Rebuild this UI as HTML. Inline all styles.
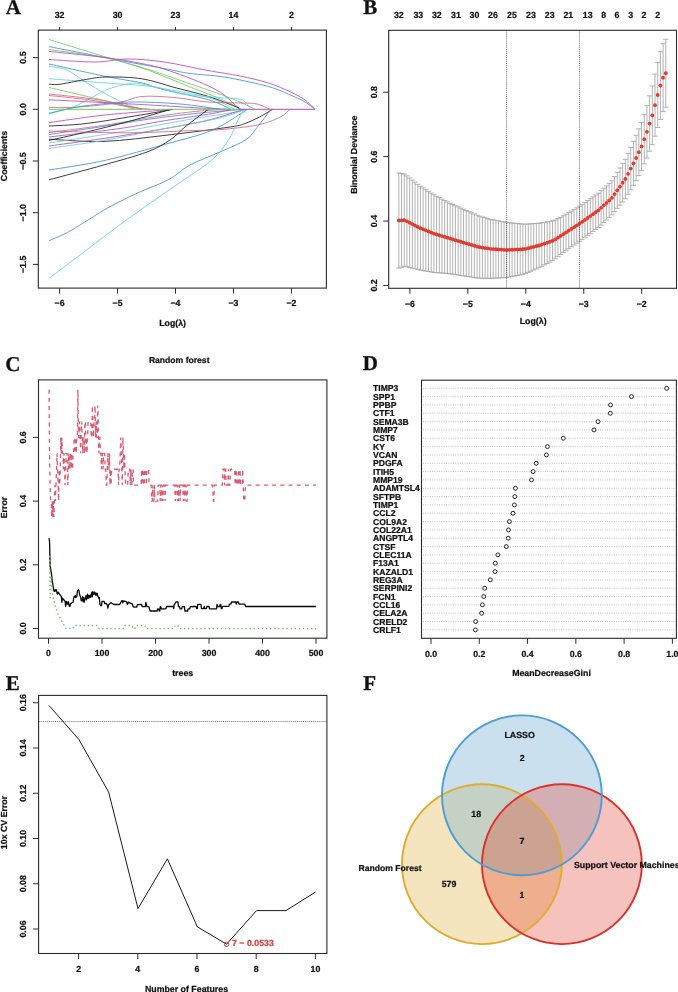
<!DOCTYPE html>
<html><head><meta charset="utf-8"><style>html,body{margin:0;padding:0;background:#fff;}svg{display:block;will-change:transform;}</style></head>
<body>
<svg width="678" height="992" viewBox="0 0 678 992" text-rendering="geometricPrecision">
<rect width="678" height="992" fill="#fff"/>
<text x="5.80" y="13.60" text-anchor="start" font-family='"Liberation Serif", serif' font-size="21" font-weight="bold" fill="#111" stroke="#111" stroke-width="0.3">A</text>
<text x="363.20" y="13.60" text-anchor="start" font-family='"Liberation Serif", serif' font-size="21" font-weight="bold" fill="#111" stroke="#111" stroke-width="0.3">B</text>
<text x="5.20" y="370.60" text-anchor="start" font-family='"Liberation Serif", serif' font-size="21" font-weight="bold" fill="#111" stroke="#111" stroke-width="0.3">C</text>
<text x="362.80" y="369.80" text-anchor="start" font-family='"Liberation Serif", serif' font-size="21" font-weight="bold" fill="#111" stroke="#111" stroke-width="0.3">D</text>
<text x="5.80" y="689.60" text-anchor="start" font-family='"Liberation Serif", serif' font-size="21" font-weight="bold" fill="#111" stroke="#111" stroke-width="0.3">E</text>
<text x="363.20" y="689.80" text-anchor="start" font-family='"Liberation Serif", serif' font-size="21" font-weight="bold" fill="#111" stroke="#111" stroke-width="0.3">F</text>
<g fill="none" stroke-width="0.85" stroke-linejoin="round">
<path d="M49.00,59.50 C56.67,59.92 81.83,62.08 95.00,62.00 C108.17,61.92 116.50,59.00 128.00,59.00 C139.50,59.00 150.67,60.08 164.00,62.00 C177.33,63.92 195.33,68.17 208.00,70.50 C220.67,72.83 229.92,73.92 240.00,76.00 C250.08,78.08 260.07,80.33 268.50,83.00 C276.93,85.67 284.52,89.17 290.60,92.00 C296.68,94.83 300.93,97.12 305.00,100.00 C309.07,102.88 313.33,107.75 315.00,109.30" stroke="#bf45c2"/>
<path d="M49.00,46.60 C58.50,48.45 94.17,55.38 106.00,57.70 C117.83,60.02 110.33,58.70 120.00,60.50 C129.67,62.30 152.33,66.33 164.00,68.50 C175.67,70.67 180.00,72.08 190.00,73.50 C200.00,74.92 210.92,74.83 224.00,77.00 C237.08,79.17 257.33,83.45 268.50,86.50 C279.67,89.55 284.92,92.72 291.00,95.30 C297.08,97.88 301.00,99.67 305.00,102.00 C309.00,104.33 313.33,108.08 315.00,109.30" stroke="#3a94d6"/>
<path d="M49.00,39.50 C58.17,42.33 92.17,52.92 104.00,56.50 C115.83,60.08 111.83,58.42 120.00,61.00 C128.17,63.58 142.00,67.93 153.00,72.00 C164.00,76.07 174.83,80.95 186.00,85.40 C197.17,89.85 210.72,94.72 220.00,98.70 C229.28,102.68 238.08,107.53 241.70,109.30" stroke="#70c95e"/>
<path d="M49.00,49.50 C58.50,50.92 89.17,54.58 106.00,58.00 C122.83,61.42 137.33,66.17 150.00,70.00 C162.67,73.83 170.33,76.97 182.00,81.00 C193.67,85.03 210.00,90.53 220.00,94.20 C230.00,97.87 236.17,100.48 242.00,103.00 C247.83,105.52 252.83,108.25 255.00,109.30" stroke="#70c95e"/>
<path d="M49.00,51.40 C58.50,52.43 90.83,55.63 106.00,57.60 C121.17,59.57 130.33,61.30 140.00,63.20 C149.67,65.10 154.50,66.03 164.00,69.00 C173.50,71.97 187.67,77.17 197.00,81.00 C206.33,84.83 214.00,88.33 220.00,92.00 C226.00,95.67 229.67,100.12 233.00,103.00 C236.33,105.88 238.83,108.25 240.00,109.30" stroke="#bf45c2"/>
<path d="M49.00,64.00 C58.50,66.08 90.50,73.33 106.00,76.50 C121.50,79.67 132.33,80.78 142.00,83.00 C151.67,85.22 152.92,87.00 164.00,89.80 C175.08,92.60 197.33,96.55 208.50,99.80 C219.67,103.05 227.25,107.72 231.00,109.30" stroke="#3a94d6"/>
<path d="M49.00,66.50 C51.92,67.05 60.67,67.38 66.50,69.80 C72.33,72.22 77.42,76.97 84.00,81.00 C90.58,85.03 98.58,90.00 106.00,94.00 C113.42,98.00 122.50,102.45 128.50,105.00 C134.50,107.55 139.75,108.58 142.00,109.30" stroke="#62d3da"/>
<path d="M49.00,78.70 C58.50,79.42 90.83,81.90 106.00,83.00 C121.17,84.10 130.33,84.35 140.00,85.30 C149.67,86.25 152.58,86.65 164.00,88.70 C175.42,90.75 196.67,94.17 208.50,97.60 C220.33,101.03 230.58,107.35 235.00,109.30" stroke="#62d3da"/>
<path d="M49.00,84.20 C50.83,84.20 54.17,84.93 60.00,84.20 C65.83,83.47 76.33,81.00 84.00,79.80 C91.67,78.60 96.33,77.17 106.00,77.00 C115.67,76.83 130.50,77.03 142.00,78.80 C153.50,80.57 163.92,84.65 175.00,87.60 C186.08,90.55 198.50,93.37 208.50,96.50 C218.50,99.63 229.75,104.27 235.00,106.40 C240.25,108.53 239.17,108.82 240.00,109.30" stroke="#1c1c1c"/>
<path d="M49.00,87.50 C58.50,89.75 91.67,97.37 106.00,101.00 C120.33,104.63 130.17,107.92 135.00,109.30" stroke="#70c95e"/>
<path d="M49.00,114.00 C52.50,113.00 64.17,110.00 70.00,108.00 C75.83,106.00 78.00,105.00 84.00,102.00 C90.00,99.00 98.67,93.00 106.00,90.00 C113.33,87.00 122.00,85.00 128.00,84.00 C134.00,83.00 132.33,82.30 142.00,84.00 C151.67,85.70 173.00,91.93 186.00,94.20 C199.00,96.47 210.67,96.67 220.00,97.60 C229.33,98.53 236.92,97.85 242.00,99.80 C247.08,101.75 249.08,107.72 250.50,109.30" stroke="#62d3da"/>
<path d="M49.00,94.00 C57.50,95.00 84.50,97.45 100.00,100.00 C115.50,102.55 135.00,107.75 142.00,109.30" stroke="#d9647c"/>
<path d="M49.00,95.50 C55.83,96.25 76.50,98.08 90.00,100.00 C103.50,101.92 120.00,105.45 130.00,107.00 C140.00,108.55 146.67,108.92 150.00,109.30" stroke="#d9647c"/>
<path d="M49.00,99.80 C58.50,100.28 89.17,101.83 106.00,102.70 C122.83,103.57 134.33,104.12 150.00,105.00 C165.67,105.88 186.67,107.28 200.00,108.00 C213.33,108.72 225.00,109.08 230.00,109.30" stroke="#bf45c2"/>
<path d="M49.00,107.30 C53.33,107.30 63.67,108.02 75.00,107.30 C86.33,106.58 105.83,104.80 117.00,103.00 C128.17,101.20 132.33,97.40 142.00,96.50 C151.67,95.60 164.00,96.68 175.00,97.60 C186.00,98.52 196.83,101.10 208.00,102.00 C219.17,102.90 233.83,102.67 242.00,103.00 C250.17,103.33 252.33,102.95 257.00,104.00 C261.67,105.05 267.83,108.42 270.00,109.30" stroke="#d9647c"/>
<path d="M49.00,113.20 C54.83,112.00 70.50,107.87 84.00,106.00 C97.50,104.13 114.00,102.33 130.00,102.00 C146.00,101.67 165.00,102.78 180.00,104.00 C195.00,105.22 213.33,108.42 220.00,109.30" stroke="#3a94d6"/>
<path d="M49.00,122.60 C58.50,121.32 85.33,117.10 106.00,114.90 C126.67,112.70 161.83,110.32 173.00,109.40" stroke="#bf45c2"/>
<path d="M49.00,126.00 C54.83,125.63 70.75,125.30 84.00,123.80 C97.25,122.30 113.67,119.40 128.50,117.00 C143.33,114.60 165.58,110.67 173.00,109.40" stroke="#1c1c1c"/>
<path d="M49.00,132.60 C58.50,131.33 87.50,127.77 106.00,125.00 C124.50,122.23 144.33,118.33 160.00,116.00 C175.67,113.67 188.33,112.12 200.00,111.00 C211.67,109.88 225.00,109.58 230.00,109.30" stroke="#d9647c"/>
<path d="M49.00,134.50 C58.50,133.08 89.17,128.58 106.00,126.00 C122.83,123.42 134.33,121.17 150.00,119.00 C165.67,116.83 184.17,114.62 200.00,113.00 C215.83,111.38 237.50,109.92 245.00,109.30" stroke="#3a94d6"/>
<path d="M49.00,137.00 C60.83,135.58 100.83,131.20 120.00,128.50 C139.17,125.80 149.25,123.18 164.00,120.80 C178.75,118.42 197.33,116.08 208.50,114.20 C219.67,112.32 227.25,110.28 231.00,109.50" stroke="#bf45c2"/>
<path d="M49.00,139.20 C58.17,139.57 84.17,142.10 104.00,141.40 C123.83,140.70 147.00,137.40 168.00,135.00 C189.00,132.60 217.17,128.92 230.00,127.00 C242.83,125.08 240.08,125.17 245.00,123.50 C249.92,121.83 254.87,119.37 259.50,117.00 C264.13,114.63 270.58,110.58 272.80,109.30" stroke="#1c1c1c"/>
<path d="M49.00,140.40 C54.83,139.10 70.75,135.75 84.00,132.60 C97.25,129.45 114.08,125.37 128.50,121.50 C142.92,117.63 163.50,111.42 170.50,109.40" stroke="#1c1c1c"/>
<path d="M49.00,143.00 C60.83,141.17 97.17,135.83 120.00,132.00 C142.83,128.17 167.67,123.17 186.00,120.00 C204.33,116.83 219.33,114.78 230.00,113.00 C240.67,111.22 246.67,109.92 250.00,109.30" stroke="#62d3da"/>
<path d="M49.00,146.00 C60.83,144.33 94.83,140.00 120.00,136.00 C145.17,132.00 179.33,126.45 200.00,122.00 C220.67,117.55 236.67,111.42 244.00,109.30" stroke="#bf45c2"/>
<path d="M49.00,148.50 C58.50,147.08 86.17,143.42 106.00,140.00 C125.83,136.58 149.00,131.67 168.00,128.00 C187.00,124.33 207.17,121.12 220.00,118.00 C232.83,114.88 240.83,110.75 245.00,109.30" stroke="#62d3da"/>
<path d="M49.00,131.00 C61.75,131.30 102.05,132.85 125.50,132.80 C148.95,132.75 173.95,131.23 189.70,130.70 C205.45,130.17 208.72,130.55 220.00,129.60 C231.28,128.65 247.47,127.03 257.40,125.00 C267.33,122.97 274.17,120.02 279.60,117.40 C285.03,114.78 288.27,110.65 290.00,109.30" stroke="#d9647c"/>
<path d="M49.00,170.00 C58.17,168.43 84.17,165.02 104.00,160.60 C123.83,156.18 150.17,148.48 168.00,143.50 C185.83,138.52 198.83,135.68 211.00,130.70 C223.17,125.72 235.00,117.17 241.00,113.60 C247.00,110.03 246.00,110.02 247.00,109.30" stroke="#3a94d6"/>
<path d="M49.00,179.80 C58.17,177.32 87.67,169.53 104.00,164.90 C120.33,160.27 136.00,156.15 147.00,152.00 C158.00,147.85 163.67,144.17 170.00,140.00 C176.33,135.83 179.58,131.40 185.00,127.00 C190.42,122.60 198.58,116.55 202.50,113.60 C206.42,110.65 207.50,110.02 208.50,109.30" stroke="#1c1c1c"/>
<path d="M49.00,240.70 C52.50,239.08 60.17,236.48 70.00,231.00 C79.83,225.52 96.67,214.17 108.00,207.80 C119.33,201.43 128.00,197.43 138.00,192.80 C148.00,188.17 159.33,184.63 168.00,180.00 C176.67,175.37 181.33,169.67 190.00,165.00 C198.67,160.33 210.67,156.23 220.00,152.00 C229.33,147.77 239.83,143.70 246.00,139.60 C252.17,135.50 252.83,132.45 257.00,127.40 C261.17,122.35 268.67,112.32 271.00,109.30" stroke="#3a94d6"/>
<path d="M49.00,278.40 C54.67,274.12 70.25,262.33 83.00,252.70 C95.75,243.07 111.33,230.93 125.50,220.60 C139.67,210.27 153.75,200.70 168.00,190.70 C182.25,180.70 200.88,169.12 211.00,160.60 C221.12,152.08 224.37,146.03 228.70,139.60 C233.03,133.17 234.45,127.05 237.00,122.00 C239.55,116.95 242.83,111.42 244.00,109.30" stroke="#62d3da"/>
<path d="M49,109.3H240" stroke="#70c95e" stroke-width="1.0"/>
<path d="M240,109.3H315" stroke="#bf45c2" stroke-width="1.0"/>
</g>
<rect x="38.30" y="30.10" width="288.10" height="258.00" fill="none" stroke="#2b2b2b" stroke-width="1.1"/>
<line x1="59.60" y1="288.10" x2="59.60" y2="293.60" stroke="#2b2b2b" stroke-width="1.0" />
<text x="59.60" y="306.30" text-anchor="middle" font-family='"Liberation Sans", sans-serif' font-size="8.8" font-weight="bold" fill="#111"  stroke="#111" stroke-width="0.22">−6</text>
<line x1="117.55" y1="288.10" x2="117.55" y2="293.60" stroke="#2b2b2b" stroke-width="1.0" />
<text x="117.55" y="306.30" text-anchor="middle" font-family='"Liberation Sans", sans-serif' font-size="8.8" font-weight="bold" fill="#111"  stroke="#111" stroke-width="0.22">−5</text>
<line x1="175.50" y1="288.10" x2="175.50" y2="293.60" stroke="#2b2b2b" stroke-width="1.0" />
<text x="175.50" y="306.30" text-anchor="middle" font-family='"Liberation Sans", sans-serif' font-size="8.8" font-weight="bold" fill="#111"  stroke="#111" stroke-width="0.22">−4</text>
<line x1="233.45" y1="288.10" x2="233.45" y2="293.60" stroke="#2b2b2b" stroke-width="1.0" />
<text x="233.45" y="306.30" text-anchor="middle" font-family='"Liberation Sans", sans-serif' font-size="8.8" font-weight="bold" fill="#111"  stroke="#111" stroke-width="0.22">−3</text>
<line x1="291.40" y1="288.10" x2="291.40" y2="293.60" stroke="#2b2b2b" stroke-width="1.0" />
<text x="291.40" y="306.30" text-anchor="middle" font-family='"Liberation Sans", sans-serif' font-size="8.8" font-weight="bold" fill="#111"  stroke="#111" stroke-width="0.22">−2</text>
<line x1="32.80" y1="57.60" x2="38.30" y2="57.60" stroke="#2b2b2b" stroke-width="1.0" />
<text transform="translate(26.10,57.60) rotate(-90)" text-anchor="middle" font-family='"Liberation Sans", sans-serif' font-size="8.8" font-weight="bold" fill="#111"  stroke="#111" stroke-width="0.22">0.5</text>
<line x1="32.80" y1="109.30" x2="38.30" y2="109.30" stroke="#2b2b2b" stroke-width="1.0" />
<text transform="translate(26.10,109.30) rotate(-90)" text-anchor="middle" font-family='"Liberation Sans", sans-serif' font-size="8.8" font-weight="bold" fill="#111"  stroke="#111" stroke-width="0.22">0.0</text>
<line x1="32.80" y1="161.00" x2="38.30" y2="161.00" stroke="#2b2b2b" stroke-width="1.0" />
<text transform="translate(26.10,161.00) rotate(-90)" text-anchor="middle" font-family='"Liberation Sans", sans-serif' font-size="8.8" font-weight="bold" fill="#111"  stroke="#111" stroke-width="0.22">−0.5</text>
<line x1="32.80" y1="212.70" x2="38.30" y2="212.70" stroke="#2b2b2b" stroke-width="1.0" />
<text transform="translate(26.10,212.70) rotate(-90)" text-anchor="middle" font-family='"Liberation Sans", sans-serif' font-size="8.8" font-weight="bold" fill="#111"  stroke="#111" stroke-width="0.22">−1.0</text>
<line x1="32.80" y1="264.40" x2="38.30" y2="264.40" stroke="#2b2b2b" stroke-width="1.0" />
<text transform="translate(26.10,264.40) rotate(-90)" text-anchor="middle" font-family='"Liberation Sans", sans-serif' font-size="8.8" font-weight="bold" fill="#111"  stroke="#111" stroke-width="0.22">−1.5</text>
<line x1="59.60" y1="30.10" x2="59.60" y2="27.10" stroke="#2b2b2b" stroke-width="1.0" />
<text x="59.60" y="18.30" text-anchor="middle" font-family='"Liberation Sans", sans-serif' font-size="8.8" font-weight="bold" fill="#111"  stroke="#111" stroke-width="0.22">32</text>
<line x1="117.55" y1="30.10" x2="117.55" y2="27.10" stroke="#2b2b2b" stroke-width="1.0" />
<text x="117.55" y="18.30" text-anchor="middle" font-family='"Liberation Sans", sans-serif' font-size="8.8" font-weight="bold" fill="#111"  stroke="#111" stroke-width="0.22">30</text>
<line x1="175.50" y1="30.10" x2="175.50" y2="27.10" stroke="#2b2b2b" stroke-width="1.0" />
<text x="175.50" y="18.30" text-anchor="middle" font-family='"Liberation Sans", sans-serif' font-size="8.8" font-weight="bold" fill="#111"  stroke="#111" stroke-width="0.22">23</text>
<line x1="233.45" y1="30.10" x2="233.45" y2="27.10" stroke="#2b2b2b" stroke-width="1.0" />
<text x="233.45" y="18.30" text-anchor="middle" font-family='"Liberation Sans", sans-serif' font-size="8.8" font-weight="bold" fill="#111"  stroke="#111" stroke-width="0.22">14</text>
<line x1="291.40" y1="30.10" x2="291.40" y2="27.10" stroke="#2b2b2b" stroke-width="1.0" />
<text x="291.40" y="18.30" text-anchor="middle" font-family='"Liberation Sans", sans-serif' font-size="8.8" font-weight="bold" fill="#111"  stroke="#111" stroke-width="0.22">2</text>
<text x="172.60" y="326.00" text-anchor="middle" font-family='"Liberation Sans", sans-serif' font-size="8.8" font-weight="bold" fill="#111"  stroke="#111" stroke-width="0.22">Log(λ)</text>
<text transform="translate(6.80,156.00) rotate(-90)" text-anchor="middle" font-family='"Liberation Sans", sans-serif' font-size="8.8" font-weight="bold" fill="#111"  stroke="#111" stroke-width="0.22">Coefficients</text>
<g stroke="#a9a9a9" stroke-width="0.9" fill="none">
<path d="M398.85,172.90V268.10M396.25,172.90H401.45M396.25,268.10H401.45"/>
<path d="M401.55,173.48V267.25M398.95,173.48H404.15M398.95,267.25H404.15"/>
<path d="M404.24,174.05V266.40M401.64,174.05H406.84M401.64,266.40H406.84"/>
<path d="M406.94,175.89V266.81M404.34,175.89H409.54M404.34,266.81H409.54"/>
<path d="M409.64,177.99V267.48M407.04,177.99H412.24M407.04,267.48H412.24"/>
<path d="M412.33,180.09V268.15M409.73,180.09H414.93M409.73,268.15H414.93"/>
<path d="M415.03,182.19V268.82M412.43,182.19H417.63M412.43,268.82H417.63"/>
<path d="M417.73,184.29V269.49M415.13,184.29H420.33M415.13,269.49H420.33"/>
<path d="M420.42,186.27V270.07M417.82,186.27H423.02M417.82,270.07H423.02"/>
<path d="M423.12,187.96V270.54M420.52,187.96H425.72M420.52,270.54H425.72"/>
<path d="M425.81,189.66V271.01M423.21,189.66H428.41M423.21,271.01H428.41"/>
<path d="M428.51,191.35V271.48M425.91,191.35H431.11M425.91,271.48H431.11"/>
<path d="M431.21,193.05V271.95M428.61,193.05H433.81M428.61,271.95H433.81"/>
<path d="M433.90,194.75V272.42M431.30,194.75H436.50M431.30,272.42H436.50"/>
<path d="M436.60,196.21V272.65M434.00,196.21H439.20M434.00,272.65H439.20"/>
<path d="M439.30,197.64V272.86M436.70,197.64H441.90M436.70,272.86H441.90"/>
<path d="M441.99,199.08V273.06M439.39,199.08H444.59M439.39,273.06H444.59"/>
<path d="M444.69,200.51V273.27M442.09,200.51H447.29M442.09,273.27H447.29"/>
<path d="M447.39,201.94V273.48M444.79,201.94H449.99M444.79,273.48H449.99"/>
<path d="M450.08,203.28V273.77M447.48,203.28H452.68M447.48,273.77H452.68"/>
<path d="M452.78,204.48V274.19M450.18,204.48H455.38M450.18,274.19H455.38"/>
<path d="M455.48,205.67V274.61M452.88,205.67H458.08M452.88,274.61H458.08"/>
<path d="M458.17,206.87V275.03M455.57,206.87H460.77M455.57,275.03H460.77"/>
<path d="M460.87,208.06V275.44M458.27,208.06H463.47M458.27,275.44H463.47"/>
<path d="M463.57,209.26V275.86M460.97,209.26H466.17M460.97,275.86H466.17"/>
<path d="M466.26,210.45V276.28M463.66,210.45H468.86M463.66,276.28H468.86"/>
<path d="M468.96,211.64V276.69M466.36,211.64H471.56M466.36,276.69H471.56"/>
<path d="M471.65,212.82V277.10M469.05,212.82H474.25M469.05,277.10H474.25"/>
<path d="M474.35,214.01V277.52M471.75,214.01H476.95M471.75,277.52H476.95"/>
<path d="M477.05,215.20V277.93M474.45,215.20H479.65M474.45,277.93H479.65"/>
<path d="M479.74,216.22V278.17M477.14,216.22H482.34M477.14,278.17H482.34"/>
<path d="M482.44,217.03V278.20M479.84,217.03H485.04M479.84,278.20H485.04"/>
<path d="M485.14,217.84V278.24M482.54,217.84H487.74M482.54,278.24H487.74"/>
<path d="M487.83,218.65V278.27M485.23,218.65H490.43M485.23,278.27H490.43"/>
<path d="M490.53,219.40V278.28M487.93,219.40H493.13M487.93,278.28H493.13"/>
<path d="M493.23,219.91V278.16M490.63,219.91H495.83M490.63,278.16H495.83"/>
<path d="M495.92,220.41V278.05M493.32,220.41H498.52M493.32,278.05H498.52"/>
<path d="M498.62,220.92V277.93M496.02,220.92H501.22M496.02,277.93H501.22"/>
<path d="M501.32,221.43V277.82M498.72,221.43H503.92M498.72,277.82H503.92"/>
<path d="M504.01,221.93V277.71M501.41,221.93H506.61M501.41,277.71H506.61"/>
<path d="M506.71,222.42V277.56M504.11,222.42H509.31M504.11,277.56H509.31"/>
<path d="M509.41,222.70V277.04M506.81,222.70H512.01M506.81,277.04H512.01"/>
<path d="M512.10,222.98V276.51M509.50,222.98H514.70M509.50,276.51H514.70"/>
<path d="M514.80,223.26V275.99M512.20,223.26H517.40M512.20,275.99H517.40"/>
<path d="M517.49,223.54V275.47M514.89,223.54H520.09M514.89,275.47H520.09"/>
<path d="M520.19,223.82V274.95M517.59,223.82H522.79M517.59,274.95H522.79"/>
<path d="M522.89,224.09V274.42M520.29,224.09H525.49M520.29,274.42H525.49"/>
<path d="M525.58,224.14V273.57M522.98,224.14H528.18M522.98,273.57H528.18"/>
<path d="M528.28,223.96V272.40M525.68,223.96H530.88M525.68,272.40H530.88"/>
<path d="M530.98,223.77V271.24M528.38,223.77H533.58M528.38,271.24H533.58"/>
<path d="M533.67,223.59V270.07M531.07,223.59H536.27M531.07,270.07H536.27"/>
<path d="M536.37,223.41V268.91M533.77,223.41H538.97M533.77,268.91H538.97"/>
<path d="M539.07,223.22V267.74M536.47,223.22H541.67M536.47,267.74H541.67"/>
<path d="M541.76,222.77V266.31M539.16,222.77H544.36M539.16,266.31H544.36"/>
<path d="M544.46,222.33V264.89M541.86,222.33H547.06M541.86,264.89H547.06"/>
<path d="M547.16,221.86V263.48M544.56,221.86H549.76M544.56,263.48H549.76"/>
<path d="M549.85,221.38V262.09M547.25,221.38H552.45M547.25,262.09H552.45"/>
<path d="M552.55,220.89V260.71M549.95,220.89H555.15M549.95,260.71H555.15"/>
<path d="M555.24,219.94V258.86M552.64,219.94H557.84M552.64,258.86H557.84"/>
<path d="M557.94,218.64V256.66M555.34,218.64H560.54M555.34,256.66H560.54"/>
<path d="M560.64,217.34V254.46M558.04,217.34H563.24M558.04,254.46H563.24"/>
<path d="M563.33,215.77V252.53M560.73,215.77H565.93M560.73,252.53H565.93"/>
<path d="M566.03,214.17V250.64M563.43,214.17H568.63M563.43,250.64H568.63"/>
<path d="M568.73,212.56V248.75M566.13,212.56H571.33M566.13,248.75H571.33"/>
<path d="M571.42,210.97V246.87M568.82,210.97H574.02M568.82,246.87H574.02"/>
<path d="M574.12,209.38V245.00M571.52,209.38H576.72M571.52,245.00H576.72"/>
<path d="M576.82,207.79V243.13M574.22,207.79H579.42M574.22,243.13H579.42"/>
<path d="M579.51,206.19V241.25M576.91,206.19H582.11M576.91,241.25H582.11"/>
<path d="M582.21,204.34V239.27M579.61,204.34H584.81M579.61,239.27H584.81"/>
<path d="M584.91,202.47V237.32M582.31,202.47H587.51M582.31,237.32H587.51"/>
<path d="M587.60,200.60V235.37M585.00,200.60H590.20M585.00,235.37H590.20"/>
<path d="M590.30,198.73V233.41M587.70,198.73H592.90M587.70,233.41H592.90"/>
<path d="M593.00,196.86V231.46M590.40,196.86H595.60M590.40,231.46H595.60"/>
<path d="M595.69,194.99V229.50M593.09,194.99H598.29M593.09,229.50H598.29"/>
<path d="M598.39,193.11V227.53M595.79,193.11H600.99M595.79,227.53H600.99"/>
<path d="M601.08,190.67V225.02M598.48,190.67H603.68M598.48,225.02H603.68"/>
<path d="M603.78,188.24V222.50M601.18,188.24H606.38M601.18,222.50H606.38"/>
<path d="M606.48,185.81V219.98M603.88,185.81H609.08M603.88,219.98H609.08"/>
<path d="M609.17,183.38V217.47M606.57,183.38H611.77M606.57,217.47H611.77"/>
<path d="M611.87,180.82V214.82M609.27,180.82H614.47M609.27,214.82H614.47"/>
<path d="M614.57,176.55V211.57M611.97,176.55H617.17M611.97,211.57H617.17"/>
<path d="M617.26,172.24V208.35M614.66,172.24H619.86M614.66,208.35H619.86"/>
<path d="M619.96,167.94V205.12M617.36,167.94H622.56M617.36,205.12H622.56"/>
<path d="M622.66,163.64V201.90M620.06,163.64H625.26M620.06,201.90H625.26"/>
<path d="M625.35,159.33V198.68M622.75,159.33H627.95M622.75,198.68H627.95"/>
<path d="M628.05,153.39V194.25M625.45,153.39H630.65M625.45,194.25H630.65"/>
<path d="M630.75,147.36V189.76M628.15,147.36H633.35M628.15,189.76H633.35"/>
<path d="M633.44,141.32V185.26M630.84,141.32H636.04M630.84,185.26H636.04"/>
<path d="M636.14,135.27V180.74M633.54,135.27H638.74M633.54,180.74H638.74"/>
<path d="M638.84,128.85V175.60M636.24,128.85H641.44M636.24,175.60H641.44"/>
<path d="M641.53,122.43V170.46M638.93,122.43H644.13M638.93,170.46H644.13"/>
<path d="M644.23,114.47V163.91M641.63,114.47H646.83M641.63,163.91H646.83"/>
<path d="M646.92,105.64V157.98M644.32,105.64H649.52M644.32,157.98H649.52"/>
<path d="M649.62,95.94V151.22M647.02,95.94H652.22M647.02,151.22H652.22"/>
<path d="M652.32,85.98V144.69M649.72,85.98H654.92M649.72,144.69H654.92"/>
<path d="M655.01,74.10V136.22M652.41,74.10H657.61M652.41,136.22H657.61"/>
<path d="M657.71,62.55V127.47M655.11,62.55H660.31M655.11,127.47H660.31"/>
<path d="M660.41,51.78V119.39M657.81,51.78H663.01M657.81,119.39H663.01"/>
<path d="M663.10,43.79V111.60M660.50,43.79H665.70M660.50,111.60H665.70"/>
<path d="M665.80,39.20V107.20M663.20,39.20H668.40M663.20,107.20H668.40"/>
</g>
<g fill="#e23a2e">
<circle cx="398.85" cy="220.50" r="1.9"/>
<circle cx="401.55" cy="220.36" r="1.9"/>
<circle cx="404.24" cy="220.22" r="1.9"/>
<circle cx="406.94" cy="221.35" r="1.9"/>
<circle cx="409.64" cy="222.73" r="1.9"/>
<circle cx="412.33" cy="224.12" r="1.9"/>
<circle cx="415.03" cy="225.50" r="1.9"/>
<circle cx="417.73" cy="226.89" r="1.9"/>
<circle cx="420.42" cy="228.17" r="1.9"/>
<circle cx="423.12" cy="229.25" r="1.9"/>
<circle cx="425.81" cy="230.33" r="1.9"/>
<circle cx="428.51" cy="231.42" r="1.9"/>
<circle cx="431.21" cy="232.50" r="1.9"/>
<circle cx="433.90" cy="233.58" r="1.9"/>
<circle cx="436.60" cy="234.43" r="1.9"/>
<circle cx="439.30" cy="235.25" r="1.9"/>
<circle cx="441.99" cy="236.07" r="1.9"/>
<circle cx="444.69" cy="236.89" r="1.9"/>
<circle cx="447.39" cy="237.71" r="1.9"/>
<circle cx="450.08" cy="238.52" r="1.9"/>
<circle cx="452.78" cy="239.33" r="1.9"/>
<circle cx="455.48" cy="240.14" r="1.9"/>
<circle cx="458.17" cy="240.95" r="1.9"/>
<circle cx="460.87" cy="241.75" r="1.9"/>
<circle cx="463.57" cy="242.56" r="1.9"/>
<circle cx="466.26" cy="243.36" r="1.9"/>
<circle cx="468.96" cy="244.16" r="1.9"/>
<circle cx="471.65" cy="244.96" r="1.9"/>
<circle cx="474.35" cy="245.77" r="1.9"/>
<circle cx="477.05" cy="246.57" r="1.9"/>
<circle cx="479.74" cy="247.19" r="1.9"/>
<circle cx="482.44" cy="247.62" r="1.9"/>
<circle cx="485.14" cy="248.04" r="1.9"/>
<circle cx="487.83" cy="248.46" r="1.9"/>
<circle cx="490.53" cy="248.84" r="1.9"/>
<circle cx="493.23" cy="249.03" r="1.9"/>
<circle cx="495.92" cy="249.23" r="1.9"/>
<circle cx="498.62" cy="249.43" r="1.9"/>
<circle cx="501.32" cy="249.62" r="1.9"/>
<circle cx="504.01" cy="249.82" r="1.9"/>
<circle cx="506.71" cy="249.99" r="1.9"/>
<circle cx="509.41" cy="249.87" r="1.9"/>
<circle cx="512.10" cy="249.75" r="1.9"/>
<circle cx="514.80" cy="249.62" r="1.9"/>
<circle cx="517.49" cy="249.50" r="1.9"/>
<circle cx="520.19" cy="249.38" r="1.9"/>
<circle cx="522.89" cy="249.26" r="1.9"/>
<circle cx="525.58" cy="248.85" r="1.9"/>
<circle cx="528.28" cy="248.18" r="1.9"/>
<circle cx="530.98" cy="247.51" r="1.9"/>
<circle cx="533.67" cy="246.83" r="1.9"/>
<circle cx="536.37" cy="246.16" r="1.9"/>
<circle cx="539.07" cy="245.48" r="1.9"/>
<circle cx="541.76" cy="244.54" r="1.9"/>
<circle cx="544.46" cy="243.61" r="1.9"/>
<circle cx="547.16" cy="242.67" r="1.9"/>
<circle cx="549.85" cy="241.74" r="1.9"/>
<circle cx="552.55" cy="240.80" r="1.9"/>
<circle cx="555.24" cy="239.40" r="1.9"/>
<circle cx="557.94" cy="237.65" r="1.9"/>
<circle cx="560.64" cy="235.90" r="1.9"/>
<circle cx="563.33" cy="234.15" r="1.9"/>
<circle cx="566.03" cy="232.40" r="1.9"/>
<circle cx="568.73" cy="230.65" r="1.9"/>
<circle cx="571.42" cy="228.92" r="1.9"/>
<circle cx="574.12" cy="227.19" r="1.9"/>
<circle cx="576.82" cy="225.46" r="1.9"/>
<circle cx="579.51" cy="223.72" r="1.9"/>
<circle cx="582.21" cy="221.81" r="1.9"/>
<circle cx="584.91" cy="219.90" r="1.9"/>
<circle cx="587.60" cy="217.98" r="1.9"/>
<circle cx="590.30" cy="216.07" r="1.9"/>
<circle cx="593.00" cy="214.16" r="1.9"/>
<circle cx="595.69" cy="212.25" r="1.9"/>
<circle cx="598.39" cy="210.32" r="1.9"/>
<circle cx="601.08" cy="207.85" r="1.9"/>
<circle cx="603.78" cy="205.37" r="1.9"/>
<circle cx="606.48" cy="202.90" r="1.9"/>
<circle cx="609.17" cy="200.43" r="1.9"/>
<circle cx="611.87" cy="197.82" r="1.9"/>
<circle cx="614.57" cy="194.06" r="1.9"/>
<circle cx="617.26" cy="190.30" r="1.9"/>
<circle cx="619.96" cy="186.53" r="1.9"/>
<circle cx="622.66" cy="182.77" r="1.9"/>
<circle cx="625.35" cy="179.01" r="1.9"/>
<circle cx="628.05" cy="173.82" r="1.9"/>
<circle cx="630.75" cy="168.56" r="1.9"/>
<circle cx="633.44" cy="163.29" r="1.9"/>
<circle cx="636.14" cy="158.00" r="1.9"/>
<circle cx="638.84" cy="152.22" r="1.9"/>
<circle cx="641.53" cy="146.45" r="1.9"/>
<circle cx="644.23" cy="139.19" r="1.9"/>
<circle cx="646.92" cy="131.81" r="1.9"/>
<circle cx="649.62" cy="123.58" r="1.9"/>
<circle cx="652.32" cy="115.33" r="1.9"/>
<circle cx="655.01" cy="105.16" r="1.9"/>
<circle cx="657.71" cy="95.01" r="1.9"/>
<circle cx="660.41" cy="85.59" r="1.9"/>
<circle cx="663.10" cy="77.69" r="1.9"/>
<circle cx="665.80" cy="73.20" r="1.9"/>
</g>
<line x1="506.60" y1="30.30" x2="506.60" y2="288.30" stroke="#555" stroke-width="0.9" stroke-dasharray="1 1.05"/>
<line x1="579.40" y1="30.30" x2="579.40" y2="288.30" stroke="#555" stroke-width="0.9" stroke-dasharray="1 1.05"/>
<rect x="388.70" y="30.30" width="287.80" height="258.00" fill="none" stroke="#2b2b2b" stroke-width="1.1"/>
<line x1="409.90" y1="288.30" x2="409.90" y2="293.80" stroke="#2b2b2b" stroke-width="1.0" />
<text x="409.90" y="306.50" text-anchor="middle" font-family='"Liberation Sans", sans-serif' font-size="8.8" font-weight="bold" fill="#111"  stroke="#111" stroke-width="0.22">−6</text>
<line x1="467.85" y1="288.30" x2="467.85" y2="293.80" stroke="#2b2b2b" stroke-width="1.0" />
<text x="467.85" y="306.50" text-anchor="middle" font-family='"Liberation Sans", sans-serif' font-size="8.8" font-weight="bold" fill="#111"  stroke="#111" stroke-width="0.22">−5</text>
<line x1="525.80" y1="288.30" x2="525.80" y2="293.80" stroke="#2b2b2b" stroke-width="1.0" />
<text x="525.80" y="306.50" text-anchor="middle" font-family='"Liberation Sans", sans-serif' font-size="8.8" font-weight="bold" fill="#111"  stroke="#111" stroke-width="0.22">−4</text>
<line x1="583.75" y1="288.30" x2="583.75" y2="293.80" stroke="#2b2b2b" stroke-width="1.0" />
<text x="583.75" y="306.50" text-anchor="middle" font-family='"Liberation Sans", sans-serif' font-size="8.8" font-weight="bold" fill="#111"  stroke="#111" stroke-width="0.22">−3</text>
<line x1="641.70" y1="288.30" x2="641.70" y2="293.80" stroke="#2b2b2b" stroke-width="1.0" />
<text x="641.70" y="306.50" text-anchor="middle" font-family='"Liberation Sans", sans-serif' font-size="8.8" font-weight="bold" fill="#111"  stroke="#111" stroke-width="0.22">−2</text>
<line x1="383.20" y1="92.18" x2="388.70" y2="92.18" stroke="#2b2b2b" stroke-width="1.0" />
<text transform="translate(376.50,92.18) rotate(-90)" text-anchor="middle" font-family='"Liberation Sans", sans-serif' font-size="8.8" font-weight="bold" fill="#111"  stroke="#111" stroke-width="0.22">0.8</text>
<line x1="383.20" y1="156.62" x2="388.70" y2="156.62" stroke="#2b2b2b" stroke-width="1.0" />
<text transform="translate(376.50,156.62) rotate(-90)" text-anchor="middle" font-family='"Liberation Sans", sans-serif' font-size="8.8" font-weight="bold" fill="#111"  stroke="#111" stroke-width="0.22">0.6</text>
<line x1="383.20" y1="221.06" x2="388.70" y2="221.06" stroke="#2b2b2b" stroke-width="1.0" />
<text transform="translate(376.50,221.06) rotate(-90)" text-anchor="middle" font-family='"Liberation Sans", sans-serif' font-size="8.8" font-weight="bold" fill="#111"  stroke="#111" stroke-width="0.22">0.4</text>
<line x1="383.20" y1="285.50" x2="388.70" y2="285.50" stroke="#2b2b2b" stroke-width="1.0" />
<text transform="translate(376.50,285.50) rotate(-90)" text-anchor="middle" font-family='"Liberation Sans", sans-serif' font-size="8.8" font-weight="bold" fill="#111"  stroke="#111" stroke-width="0.22">0.2</text>
<text x="398.80" y="18.30" text-anchor="middle" font-family='"Liberation Sans", sans-serif' font-size="8.8" font-weight="bold" fill="#111"  stroke="#111" stroke-width="0.22">32</text>
<text x="418.30" y="18.30" text-anchor="middle" font-family='"Liberation Sans", sans-serif' font-size="8.8" font-weight="bold" fill="#111"  stroke="#111" stroke-width="0.22">33</text>
<text x="436.80" y="18.30" text-anchor="middle" font-family='"Liberation Sans", sans-serif' font-size="8.8" font-weight="bold" fill="#111"  stroke="#111" stroke-width="0.22">32</text>
<text x="455.90" y="18.30" text-anchor="middle" font-family='"Liberation Sans", sans-serif' font-size="8.8" font-weight="bold" fill="#111"  stroke="#111" stroke-width="0.22">31</text>
<text x="474.50" y="18.30" text-anchor="middle" font-family='"Liberation Sans", sans-serif' font-size="8.8" font-weight="bold" fill="#111"  stroke="#111" stroke-width="0.22">30</text>
<text x="493.00" y="18.30" text-anchor="middle" font-family='"Liberation Sans", sans-serif' font-size="8.8" font-weight="bold" fill="#111"  stroke="#111" stroke-width="0.22">26</text>
<text x="512.00" y="18.30" text-anchor="middle" font-family='"Liberation Sans", sans-serif' font-size="8.8" font-weight="bold" fill="#111"  stroke="#111" stroke-width="0.22">25</text>
<text x="531.00" y="18.30" text-anchor="middle" font-family='"Liberation Sans", sans-serif' font-size="8.8" font-weight="bold" fill="#111"  stroke="#111" stroke-width="0.22">23</text>
<text x="549.70" y="18.30" text-anchor="middle" font-family='"Liberation Sans", sans-serif' font-size="8.8" font-weight="bold" fill="#111"  stroke="#111" stroke-width="0.22">23</text>
<text x="568.30" y="18.30" text-anchor="middle" font-family='"Liberation Sans", sans-serif' font-size="8.8" font-weight="bold" fill="#111"  stroke="#111" stroke-width="0.22">21</text>
<text x="587.70" y="18.30" text-anchor="middle" font-family='"Liberation Sans", sans-serif' font-size="8.8" font-weight="bold" fill="#111"  stroke="#111" stroke-width="0.22">13</text>
<text x="603.70" y="18.30" text-anchor="middle" font-family='"Liberation Sans", sans-serif' font-size="8.8" font-weight="bold" fill="#111"  stroke="#111" stroke-width="0.22">8</text>
<text x="617.00" y="18.30" text-anchor="middle" font-family='"Liberation Sans", sans-serif' font-size="8.8" font-weight="bold" fill="#111"  stroke="#111" stroke-width="0.22">6</text>
<text x="630.70" y="18.30" text-anchor="middle" font-family='"Liberation Sans", sans-serif' font-size="8.8" font-weight="bold" fill="#111"  stroke="#111" stroke-width="0.22">3</text>
<text x="644.00" y="18.30" text-anchor="middle" font-family='"Liberation Sans", sans-serif' font-size="8.8" font-weight="bold" fill="#111"  stroke="#111" stroke-width="0.22">2</text>
<text x="657.60" y="18.30" text-anchor="middle" font-family='"Liberation Sans", sans-serif' font-size="8.8" font-weight="bold" fill="#111"  stroke="#111" stroke-width="0.22">2</text>
<text x="533.20" y="324.40" text-anchor="middle" font-family='"Liberation Sans", sans-serif' font-size="8.8" font-weight="bold" fill="#111"  stroke="#111" stroke-width="0.22">Log(λ)</text>
<text transform="translate(356.70,154.70) rotate(-90)" text-anchor="middle" font-family='"Liberation Sans", sans-serif' font-size="8.8" font-weight="bold" fill="#111"  stroke="#111" stroke-width="0.22">Binomial Deviance</text>
<polyline points="49.03,389.62 49.57,453.32 50.10,485.17 50.64,501.10 51.17,501.10 51.71,517.02 52.24,501.10 52.78,517.02 53.31,501.10 53.85,517.02 54.38,501.10 54.92,485.17 55.45,501.10 55.99,485.17 56.52,469.25 57.06,453.32 57.59,469.25 58.13,485.17 58.66,501.10 59.20,469.25 59.73,485.17 60.27,469.25 60.80,437.40 61.34,453.32 61.88,437.40 62.41,453.32 62.95,453.32 63.48,469.25 64.02,453.32 64.55,469.25 65.09,485.17 65.62,469.25 66.16,453.32 66.69,453.32 67.22,453.32 67.76,485.17 68.30,469.25 68.83,453.32 69.37,469.25 69.90,453.32 70.44,453.32 70.97,469.25 71.50,453.32 72.04,469.25 72.58,469.25 73.11,453.32 73.65,453.32 74.18,437.40 74.72,437.40 75.25,453.32 75.78,437.40 76.32,453.32 76.86,437.40 77.39,437.40 77.92,389.62 78.46,437.40 79.00,437.40 79.53,421.48 80.06,437.40 80.60,453.32 81.14,437.40 81.67,421.48 82.21,437.40 82.74,453.32 83.28,437.40 83.81,437.40 84.34,453.32 84.88,421.48 85.41,421.48 85.95,453.32 86.48,437.40 87.02,453.32 87.56,437.40 88.09,421.48 88.62,421.48 89.16,421.48 89.69,421.48 90.23,421.48 90.77,421.48 91.30,437.40 91.84,437.40 92.37,405.55 92.91,421.48 93.44,437.40 93.97,421.48 94.51,421.48 95.05,405.55 95.58,437.40 96.12,421.48 96.65,437.40 97.19,437.40 97.72,405.55 98.25,421.48 98.79,453.32 99.33,437.40 99.86,437.40 100.40,453.32 100.93,453.32 101.47,469.25 102.00,453.32 102.53,453.32 103.07,469.25 103.61,453.32 104.14,453.32 104.68,453.32 105.21,469.25 105.75,469.25 106.28,485.17 106.81,485.17 107.35,469.25 107.89,453.32 108.42,469.25 108.96,469.25 109.49,453.32 110.03,485.17 110.56,469.25 111.09,485.17 111.63,469.25 112.17,469.25 112.70,469.25 113.23,469.25 113.77,469.25 114.31,469.25 114.84,469.25 115.38,469.25 115.91,469.25 116.45,469.25 116.98,469.25 117.52,469.25 118.05,469.25 118.59,485.17 119.12,469.25 119.66,469.25 120.19,453.32 120.73,437.40 121.26,453.32 121.80,469.25 122.33,485.17 122.87,437.40 123.40,453.32 123.94,469.25 124.47,453.32 125.01,469.25 125.54,485.17 126.08,485.17 126.61,485.17 127.15,485.17 127.68,485.17 128.22,469.25 128.75,469.25 129.29,469.25 129.82,469.25 130.36,485.17 130.89,469.25 131.43,485.17 131.96,485.17 132.50,469.25 133.03,469.25 133.56,485.17 134.10,485.17 134.63,485.17 135.17,485.17 135.70,485.17 136.24,485.17 136.78,485.17 137.31,485.17 137.84,485.17 138.38,485.17 138.92,485.17 139.45,485.17 139.99,485.17 140.52,485.17 141.06,485.17 141.59,469.25 142.12,485.17 142.66,469.25 143.19,469.25 143.73,485.17 144.26,485.17 144.80,469.25 145.34,469.25 145.87,469.25 146.41,485.17 146.94,469.25 147.48,469.25 148.01,469.25 148.55,469.25 149.08,485.17 149.62,485.17 150.15,485.17 150.69,485.17 151.22,485.17 151.75,501.10 152.29,501.10 152.82,485.17 153.36,501.10 153.90,501.10 154.43,485.17 154.97,501.10 155.50,501.10 156.04,501.10 156.57,501.10 157.11,501.10 157.64,501.10 158.18,485.17 158.71,485.17 159.25,485.17 159.78,485.17 160.31,501.10 160.85,485.17 161.38,485.17 161.92,501.10 162.46,485.17 162.99,501.10 163.53,485.17 164.06,485.17 164.60,485.17 165.13,501.10 165.67,485.17 166.20,485.17 166.74,485.17 167.27,485.17 167.81,485.17 168.34,485.17 168.88,485.17 169.41,485.17 169.94,485.17 170.48,485.17 171.01,485.17 171.55,485.17 172.09,485.17 172.62,485.17 173.16,485.17 173.69,485.17 174.23,485.17 174.76,485.17 175.30,501.10 175.83,485.17 176.37,485.17 176.90,485.17 177.44,501.10 177.97,485.17 178.50,501.10 179.04,485.17 179.58,485.17 180.11,501.10 180.65,485.17 181.18,485.17 181.72,485.17 182.25,485.17 182.78,485.17 183.32,501.10 183.86,485.17 184.39,485.17 184.93,501.10 185.46,485.17 186.00,485.17 186.53,501.10 187.06,501.10 187.60,485.17 188.14,485.17 188.67,485.17 189.21,485.17 189.74,485.17 190.28,485.17 190.81,485.17 191.34,485.17 191.88,485.17 192.42,485.17 192.95,485.17 193.49,485.17 194.02,485.17 194.56,485.17 195.09,485.17 195.62,485.17 196.16,485.17 196.70,485.17 197.23,485.17 197.77,485.17 198.30,485.17 198.84,485.17 199.37,485.17 199.91,485.17 200.44,485.17 200.98,485.17 201.51,485.17 202.05,485.17 202.58,485.17 203.12,485.17 203.65,485.17 204.19,485.17 204.72,485.17 205.25,485.17 205.79,485.17 206.33,485.17 206.86,485.17 207.40,485.17 207.93,485.17 208.47,485.17 209.00,485.17 209.53,485.17 210.07,485.17 210.61,485.17 211.14,485.17 211.68,485.17 212.21,485.17 212.75,485.17 213.28,501.10 213.81,501.10 214.35,485.17 214.89,485.17 215.42,485.17 215.96,485.17 216.49,485.17 217.03,485.17 217.56,485.17 218.09,485.17 218.63,485.17 219.17,485.17 219.70,485.17 220.24,485.17 220.77,485.17 221.31,485.17 221.84,485.17 222.38,485.17 222.91,469.25 223.45,469.25 223.98,469.25 224.52,485.17 225.05,469.25 225.59,469.25 226.12,485.17 226.66,485.17 227.19,485.17 227.73,485.17 228.26,469.25 228.80,485.17 229.33,485.17 229.87,485.17 230.40,469.25 230.94,469.25 231.47,469.25 232.01,469.25 232.54,469.25 233.08,469.25 233.61,469.25 234.15,469.25 234.68,469.25 235.22,485.17 235.75,469.25 236.29,469.25 236.82,485.17 237.36,485.17 237.89,485.17 238.43,469.25 238.96,485.17 239.50,485.17 240.03,469.25 240.56,485.17 241.10,485.17 241.64,485.17 242.17,485.17 242.71,469.25 243.24,485.17 243.78,501.10 244.31,501.10 244.84,501.10 245.38,485.17 245.92,485.17 246.45,485.17 246.99,485.17 247.52,485.17 248.06,485.17 248.59,485.17 249.12,485.17 249.66,485.17 250.20,485.17 250.73,485.17 251.27,485.17 251.80,485.17 252.34,485.17 252.87,485.17 253.41,485.17 253.94,485.17 254.48,485.17 255.01,485.17 255.55,485.17 256.08,485.17 256.62,485.17 257.15,485.17 257.69,485.17 258.22,485.17 258.75,485.17 259.29,485.17 259.83,485.17 260.36,485.17 260.89,485.17 261.43,485.17 261.97,485.17 262.50,485.17 263.04,485.17 263.57,485.17 264.11,485.17 264.64,485.17 265.18,485.17 265.71,485.17 266.25,485.17 266.78,485.17 267.32,485.17 267.85,485.17 268.38,485.17 268.92,485.17 269.46,485.17 269.99,485.17 270.52,485.17 271.06,485.17 271.60,485.17 272.13,485.17 272.67,485.17 273.20,485.17 273.74,485.17 274.27,485.17 274.81,485.17 275.34,485.17 275.88,485.17 276.41,485.17 276.95,485.17 277.48,485.17 278.01,485.17 278.55,485.17 279.09,485.17 279.62,485.17 280.15,485.17 280.69,485.17 281.23,485.17 281.76,485.17 282.30,485.17 282.83,485.17 283.37,485.17 283.90,485.17 284.44,485.17 284.97,485.17 285.50,485.17 286.04,485.17 286.58,485.17 287.11,485.17 287.64,485.17 288.18,485.17 288.72,485.17 289.25,485.17 289.79,485.17 290.32,485.17 290.86,485.17 291.39,485.17 291.93,485.17 292.46,485.17 293.00,485.17 293.53,485.17 294.07,485.17 294.60,485.17 295.13,485.17 295.67,485.17 296.21,485.17 296.74,485.17 297.27,485.17 297.81,485.17 298.35,485.17 298.88,485.17 299.42,485.17 299.95,485.17 300.49,485.17 301.02,485.17 301.56,485.17 302.09,485.17 302.62,485.17 303.16,485.17 303.70,485.17 304.23,485.17 304.77,485.17 305.30,485.17 305.84,485.17 306.37,485.17 306.91,485.17 307.44,485.17 307.98,485.17 308.51,485.17 309.05,485.17 309.58,485.17 310.12,485.17 310.65,485.17 311.19,485.17 311.72,485.17 312.25,485.17 312.79,485.17 313.32,485.17 313.86,485.17 314.40,485.17 314.93,485.17 315.47,485.17 316.00,485.17" fill="none" stroke="#DA5A72" stroke-width="1.3" stroke-dasharray="4 4.2"/>
<polyline points="49.03,538.10 49.57,541.87 50.10,565.63 50.64,568.84 51.17,572.05 51.71,575.26 52.24,580.90 52.78,584.17 53.31,587.44 53.85,590.49 54.38,591.46 54.92,590.04 55.45,591.01 55.99,589.58 56.52,590.26 57.06,593.33 57.59,593.99 58.13,592.26 58.66,592.93 59.20,593.60 59.73,594.36 60.27,595.13 60.80,595.89 61.34,596.66 61.88,602.22 62.41,598.08 62.95,598.71 63.48,599.34 64.02,599.97 64.55,600.60 65.09,601.23 65.62,606.40 66.16,601.60 66.69,601.60 67.22,604.00 67.76,604.00 68.30,601.60 68.83,604.00 69.37,606.40 69.90,606.40 70.44,603.74 70.97,603.41 71.50,603.09 72.04,602.76 72.58,602.44 73.11,602.12 73.65,598.38 74.18,596.49 74.72,597.01 75.25,595.72 75.78,597.53 76.32,596.93 76.86,596.34 77.39,590.94 77.92,590.35 78.46,589.76 79.00,590.59 79.53,594.33 80.06,595.66 80.60,597.00 81.14,600.49 81.67,600.85 82.21,598.80 82.74,596.76 83.28,601.92 83.81,597.47 84.34,602.05 84.88,599.12 85.41,598.59 85.95,595.65 86.48,599.91 87.02,596.98 87.56,594.04 88.09,598.36 88.62,595.75 89.16,597.94 89.69,595.32 90.23,595.11 90.77,597.29 91.30,594.68 91.84,592.07 92.37,596.65 92.91,591.64 93.44,594.18 93.97,594.39 94.51,592.20 95.05,592.42 95.58,595.03 96.12,595.25 96.65,593.06 97.19,593.27 97.72,595.89 98.25,596.76 98.79,598.37 99.33,597.58 99.86,603.98 100.40,605.39 100.93,605.70 101.47,605.70 102.00,601.30 102.53,601.30 103.07,601.30 103.61,601.30 104.14,601.30 104.68,603.50 105.21,603.50 105.75,603.50 106.28,603.50 106.81,604.24 107.35,605.20 107.89,608.10 108.42,605.28 108.96,604.65 109.49,604.03 110.03,603.40 110.56,602.78 111.09,602.70 111.63,603.07 112.17,603.44 112.70,603.81 113.23,604.18 113.77,604.50 114.31,604.50 114.84,604.50 115.38,604.50 115.91,604.50 116.45,604.50 116.98,604.50 117.52,604.50 118.05,604.50 118.59,604.50 119.12,604.50 119.66,604.40 120.19,603.47 120.73,602.54 121.26,601.61 121.80,600.68 122.33,600.62 122.87,602.96 123.40,600.91 123.94,601.05 124.47,601.20 125.01,601.35 125.54,601.49 126.08,601.64 126.61,601.78 127.15,604.13 127.68,604.28 128.22,602.22 128.75,602.41 129.29,602.66 129.82,602.90 130.36,603.15 130.89,603.39 131.43,603.64 131.96,603.88 132.50,604.13 133.03,606.57 133.56,606.82 134.10,607.06 134.63,607.18 135.17,607.13 135.70,607.08 136.24,607.04 136.78,606.99 137.31,604.74 137.84,604.69 138.38,604.64 138.92,604.60 139.45,604.55 139.99,604.50 140.52,604.50 141.06,604.50 141.59,604.50 142.12,606.70 142.66,606.70 143.19,606.70 143.73,606.70 144.26,606.70 144.80,606.70 145.34,606.70 145.87,602.30 146.41,604.50 146.94,606.70 147.48,606.70 148.01,606.70 148.55,606.70 149.08,607.04 149.62,609.34 150.15,611.00 150.69,611.00 151.22,611.00 151.75,611.00 152.29,611.00 152.82,611.00 153.36,611.00 153.90,611.00 154.43,611.00 154.97,611.00 155.50,611.00 156.04,611.00 156.57,611.00 157.11,611.00 157.64,608.80 158.18,608.80 158.71,608.80 159.25,611.00 159.78,611.00 160.31,606.60 160.85,606.60 161.38,608.80 161.92,608.80 162.46,608.80 162.99,608.80 163.53,608.80 164.06,608.80 164.60,608.80 165.13,608.80 165.67,608.80 166.20,607.88 166.74,606.50 167.27,606.50 167.81,606.50 168.34,606.50 168.88,606.50 169.41,606.50 169.94,606.50 170.48,606.50 171.01,606.50 171.55,606.50 172.09,606.50 172.62,606.50 173.16,606.50 173.69,608.70 174.23,604.30 174.76,604.30 175.30,602.94 175.83,602.00 176.37,602.00 176.90,602.00 177.44,602.00 177.97,602.00 178.50,606.60 179.04,606.60 179.58,606.60 180.11,608.80 180.65,608.80 181.18,608.80 181.72,608.80 182.25,606.60 182.78,606.60 183.32,606.60 183.86,606.60 184.39,606.60 184.93,611.00 185.46,611.00 186.00,611.00 186.53,611.00 187.06,611.00 187.60,611.00 188.14,608.80 188.67,608.80 189.21,608.80 189.74,608.80 190.28,606.60 190.81,606.60 191.34,606.60 191.88,606.60 192.42,606.89 192.95,606.50 193.49,606.50 194.02,606.50 194.56,606.50 195.09,606.50 195.62,606.50 196.16,606.50 196.70,608.70 197.23,608.70 197.77,604.30 198.30,604.30 198.84,604.30 199.37,604.30 199.91,604.30 200.44,604.30 200.98,604.30 201.51,608.70 202.05,608.70 202.58,608.70 203.12,608.70 203.65,608.70 204.19,606.50 204.72,608.70 205.25,608.70 205.79,608.70 206.33,608.70 206.86,606.50 207.40,606.50 207.93,606.50 208.47,606.50 209.00,606.50 209.53,608.80 210.07,608.80 210.61,608.80 211.14,608.80 211.68,608.80 212.21,608.80 212.75,608.80 213.28,608.80 213.81,608.80 214.35,608.80 214.89,608.80 215.42,608.80 215.96,608.80 216.49,608.75 217.03,604.30 217.56,606.50 218.09,606.50 218.63,606.50 219.17,606.50 219.70,606.50 220.24,604.30 220.77,604.30 221.31,608.70 221.84,608.70 222.38,606.98 222.91,606.40 223.45,606.40 223.98,606.40 224.52,606.40 225.05,606.40 225.59,606.40 226.12,606.40 226.66,606.40 227.19,606.40 227.73,606.40 228.26,606.40 228.80,606.40 229.33,604.20 229.87,604.20 230.40,604.20 230.94,604.20 231.47,602.00 232.01,602.00 232.54,602.00 233.08,602.00 233.61,602.00 234.15,602.00 234.68,602.00 235.22,602.00 235.75,602.00 236.29,604.20 236.82,602.00 237.36,602.00 237.89,602.00 238.43,602.00 238.96,604.20 239.50,604.20 240.03,604.20 240.56,604.20 241.10,604.20 241.64,604.20 242.17,604.20 242.71,604.20 243.24,604.20 243.78,604.20 244.31,604.20 244.84,604.20 245.38,605.95 245.92,606.50 246.45,606.50 246.99,606.50 247.52,606.50 248.06,606.50 248.59,606.50 249.12,606.50 249.66,606.50 250.20,606.50 250.73,606.50 251.27,606.50 251.80,606.50 252.34,606.50 252.87,606.50 253.41,606.50 253.94,606.50 254.48,606.50 255.01,606.50 255.55,606.50 256.08,606.50 256.62,606.50 257.15,606.50 257.69,606.50 258.22,606.50 258.75,606.50 259.29,606.50 259.83,606.50 260.36,606.50 260.89,606.50 261.43,606.50 261.97,606.50 262.50,606.50 263.04,606.50 263.57,606.50 264.11,606.50 264.64,606.50 265.18,606.50 265.71,606.50 266.25,606.50 266.78,606.50 267.32,606.50 267.85,606.50 268.38,606.50 268.92,606.50 269.46,606.50 269.99,606.50 270.52,606.50 271.06,606.50 271.60,606.50 272.13,606.50 272.67,606.50 273.20,606.50 273.74,606.50 274.27,606.50 274.81,606.50 275.34,606.50 275.88,606.50 276.41,606.50 276.95,606.50 277.48,606.50 278.01,606.50 278.55,606.50 279.09,606.50 279.62,606.50 280.15,606.50 280.69,606.50 281.23,606.50 281.76,606.50 282.30,606.50 282.83,606.50 283.37,606.50 283.90,606.50 284.44,606.50 284.97,606.50 285.50,606.50 286.04,606.50 286.58,606.50 287.11,606.50 287.64,606.50 288.18,606.50 288.72,606.50 289.25,606.50 289.79,606.50 290.32,606.50 290.86,606.50 291.39,606.50 291.93,606.50 292.46,606.50 293.00,606.50 293.53,606.50 294.07,606.50 294.60,606.50 295.13,606.50 295.67,606.50 296.21,606.50 296.74,606.50 297.27,606.50 297.81,606.50 298.35,606.50 298.88,606.50 299.42,606.50 299.95,606.50 300.49,606.50 301.02,606.50 301.56,606.50 302.09,606.50 302.62,606.50 303.16,606.50 303.70,606.50 304.23,606.50 304.77,606.50 305.30,606.50 305.84,606.50 306.37,606.50 306.91,606.50 307.44,606.50 307.98,606.50 308.51,606.50 309.05,606.50 309.58,606.50 310.12,606.50 310.65,606.50 311.19,606.50 311.72,606.50 312.25,606.50 312.79,606.50 313.32,606.50 313.86,606.50 314.40,606.50 314.93,606.50 315.47,606.50 316.00,606.50" fill="none" stroke="#0a0a0a" stroke-width="1.3" stroke-linejoin="round"/>
<polyline points="49.03,556.50 49.57,556.50 50.10,599.75 50.64,575.49 51.17,581.98 51.71,588.48 52.24,593.06 52.78,595.38 53.31,597.70 53.85,600.02 54.38,602.34 54.92,604.65 55.45,606.37 55.99,607.97 56.52,609.58 57.06,611.18 57.59,612.78 58.13,614.24 58.66,615.22 59.20,616.20 59.73,617.18 60.27,618.16 60.80,619.14 61.34,620.16 61.88,621.21 62.41,622.25 62.95,623.29 63.48,624.18 64.02,625.05 64.55,625.92 65.09,626.79 65.62,627.66 66.16,628.53 66.69,628.60 67.22,628.60 67.76,628.60 68.30,628.60 68.83,628.60 69.37,628.60 69.90,628.60 70.44,628.60 70.97,628.60 71.50,628.60 72.04,628.60 72.58,628.60 73.11,628.26 73.65,626.60 74.18,625.50 74.72,625.50 75.25,625.50 75.78,625.50 76.32,625.50 76.86,625.50 77.39,625.50 77.92,625.50 78.46,625.50 79.00,625.50 79.53,625.50 80.06,625.50 80.60,625.50 81.14,625.50 81.67,625.50 82.21,625.50 82.74,625.50 83.28,625.50 83.81,625.50 84.34,625.50 84.88,625.50 85.41,625.50 85.95,625.50 86.48,625.50 87.02,625.50 87.56,625.50 88.09,625.50 88.62,625.50 89.16,625.50 89.69,625.50 90.23,625.50 90.77,625.50 91.30,625.50 91.84,625.50 92.37,625.50 92.91,625.50 93.44,625.50 93.97,625.50 94.51,625.50 95.05,625.50 95.58,625.50 96.12,625.50 96.65,625.50 97.19,625.50 97.72,625.50 98.25,626.29 98.79,627.95 99.33,628.60 99.86,628.60 100.40,628.60 100.93,628.60 101.47,628.60 102.00,628.60 102.53,628.60 103.07,628.60 103.61,628.60 104.14,628.60 104.68,628.60 105.21,628.60 105.75,628.60 106.28,628.60 106.81,628.60 107.35,628.60 107.89,628.60 108.42,628.60 108.96,628.60 109.49,628.60 110.03,628.60 110.56,628.60 111.09,628.60 111.63,628.60 112.17,628.60 112.70,628.60 113.23,628.60 113.77,628.60 114.31,628.60 114.84,628.60 115.38,628.60 115.91,628.60 116.45,628.60 116.98,628.60 117.52,628.60 118.05,628.60 118.59,628.60 119.12,628.60 119.66,628.60 120.19,628.60 120.73,628.60 121.26,628.60 121.80,628.60 122.33,628.60 122.87,628.60 123.40,628.60 123.94,628.60 124.47,627.14 125.01,625.50 125.54,625.50 126.08,625.50 126.61,625.50 127.15,625.50 127.68,625.50 128.22,625.50 128.75,625.50 129.29,625.50 129.82,625.50 130.36,625.50 130.89,625.50 131.43,625.50 131.96,625.50 132.50,627.03 133.03,628.60 133.56,628.60 134.10,628.60 134.63,628.60 135.17,628.07 135.70,626.41 136.24,625.50 136.78,625.50 137.31,625.50 137.84,625.50 138.38,625.50 138.92,625.50 139.45,625.50 139.99,625.50 140.52,625.50 141.06,625.50 141.59,625.50 142.12,625.50 142.66,625.50 143.19,625.50 143.73,625.50 144.26,625.50 144.80,625.50 145.34,626.54 145.87,628.20 146.41,628.60 146.94,628.60 147.48,628.60 148.01,628.60 148.55,628.60 149.08,628.60 149.62,628.60 150.15,628.60 150.69,628.60 151.22,628.60 151.75,628.60 152.29,628.60 152.82,628.60 153.36,628.60 153.90,628.60 154.43,628.60 154.97,628.60 155.50,628.60 156.04,628.60 156.57,628.60 157.11,628.60 157.64,628.60 158.18,628.60 158.71,628.60 159.25,628.60 159.78,628.60 160.31,628.60 160.85,628.60 161.38,628.60 161.92,628.60 162.46,628.60 162.99,628.60 163.53,628.60 164.06,628.60 164.60,628.60 165.13,628.60 165.67,628.60 166.20,628.60 166.74,628.60 167.27,628.60 167.81,628.60 168.34,628.60 168.88,628.60 169.41,628.60 169.94,628.60 170.48,628.60 171.01,628.60 171.55,628.60 172.09,628.60 172.62,628.60 173.16,628.60 173.69,628.60 174.23,627.90 174.76,626.24 175.30,625.50 175.83,625.50 176.37,625.50 176.90,625.50 177.44,625.50 177.97,625.50 178.50,627.07 179.04,628.60 179.58,628.60 180.11,628.60 180.65,628.60 181.18,628.60 181.72,628.60 182.25,628.60 182.78,628.60 183.32,628.60 183.86,628.60 184.39,628.60 184.93,628.60 185.46,628.60 186.00,628.60 186.53,628.60 187.06,628.60 187.60,628.60 188.14,628.60 188.67,628.60 189.21,628.60 189.74,628.60 190.28,628.60 190.81,628.60 191.34,628.60 191.88,628.60 192.42,628.60 192.95,628.60 193.49,628.60 194.02,628.60 194.56,628.60 195.09,628.60 195.62,628.60 196.16,628.60 196.70,628.60 197.23,628.60 197.77,628.60 198.30,628.60 198.84,628.60 199.37,628.60 199.91,628.60 200.44,628.60 200.98,628.60 201.51,628.60 202.05,628.60 202.58,628.60 203.12,628.60 203.65,628.60 204.19,628.60 204.72,628.60 205.25,628.60 205.79,628.60 206.33,628.60 206.86,628.60 207.40,628.60 207.93,628.60 208.47,628.60 209.00,628.60 209.53,628.60 210.07,628.60 210.61,628.60 211.14,628.60 211.68,628.60 212.21,628.60 212.75,628.60 213.28,628.60 213.81,628.60 214.35,628.60 214.89,628.60 215.42,628.60 215.96,628.60 216.49,628.60 217.03,628.60 217.56,628.60 218.09,628.60 218.63,628.60 219.17,628.60 219.70,628.60 220.24,628.60 220.77,628.60 221.31,628.60 221.84,628.60 222.38,628.60 222.91,628.60 223.45,628.60 223.98,628.60 224.52,628.60 225.05,628.60 225.59,628.60 226.12,628.60 226.66,628.60 227.19,628.60 227.73,628.60 228.26,628.60 228.80,628.60 229.33,628.60 229.87,628.60 230.40,628.60 230.94,628.60 231.47,628.60 232.01,628.60 232.54,628.60 233.08,628.60 233.61,628.60 234.15,628.60 234.68,628.60 235.22,628.60 235.75,628.60 236.29,628.60 236.82,628.60 237.36,628.60 237.89,628.60 238.43,628.60 238.96,628.60 239.50,628.60 240.03,628.60 240.56,628.60 241.10,628.60 241.64,628.60 242.17,628.60 242.71,628.60 243.24,628.60 243.78,628.60 244.31,628.60 244.84,628.60 245.38,628.60 245.92,628.60 246.45,628.60 246.99,628.60 247.52,628.60 248.06,628.60 248.59,628.60 249.12,628.60 249.66,628.60 250.20,628.60 250.73,628.60 251.27,628.60 251.80,628.60 252.34,628.60 252.87,628.60 253.41,628.60 253.94,628.60 254.48,628.60 255.01,628.60 255.55,628.60 256.08,628.60 256.62,628.60 257.15,628.60 257.69,628.60 258.22,628.60 258.75,628.60 259.29,628.60 259.83,628.60 260.36,628.60 260.89,628.60 261.43,628.60 261.97,628.60 262.50,628.60 263.04,628.60 263.57,628.60 264.11,628.60 264.64,628.60 265.18,628.60 265.71,628.60 266.25,628.60 266.78,628.60 267.32,628.60 267.85,628.60 268.38,628.60 268.92,628.60 269.46,628.60 269.99,628.60 270.52,628.60 271.06,628.60 271.60,628.60 272.13,628.60 272.67,628.60 273.20,628.60 273.74,628.60 274.27,628.60 274.81,628.60 275.34,628.60 275.88,628.60 276.41,628.60 276.95,628.60 277.48,628.60 278.01,628.60 278.55,628.60 279.09,628.60 279.62,628.60 280.15,628.60 280.69,628.60 281.23,628.60 281.76,628.60 282.30,628.60 282.83,628.60 283.37,628.60 283.90,628.60 284.44,628.60 284.97,628.60 285.50,628.60 286.04,628.60 286.58,628.60 287.11,628.60 287.64,628.60 288.18,628.60 288.72,628.60 289.25,628.60 289.79,628.60 290.32,628.60 290.86,628.60 291.39,628.60 291.93,628.60 292.46,628.60 293.00,628.60 293.53,628.60 294.07,628.60 294.60,628.60 295.13,628.60 295.67,628.60 296.21,628.60 296.74,628.60 297.27,628.60 297.81,628.60 298.35,628.60 298.88,628.60 299.42,628.60 299.95,628.60 300.49,628.60 301.02,628.60 301.56,628.60 302.09,628.60 302.62,628.60 303.16,628.60 303.70,628.60 304.23,628.60 304.77,628.60 305.30,628.60 305.84,628.60 306.37,628.60 306.91,628.60 307.44,628.60 307.98,628.60 308.51,628.60 309.05,628.60 309.58,628.60 310.12,628.60 310.65,628.60 311.19,628.60 311.72,628.60 312.25,628.60 312.79,628.60 313.32,628.60 313.86,628.60 314.40,628.60 314.93,628.60 315.47,628.60 316.00,628.60" fill="none" stroke="#72c85e" stroke-width="1.4" stroke-dasharray="1.4 2.7"/>
<rect x="38.50" y="379.90" width="288.40" height="258.30" fill="none" stroke="#2b2b2b" stroke-width="1.1"/>
<line x1="48.50" y1="638.20" x2="48.50" y2="643.70" stroke="#2b2b2b" stroke-width="1.0" />
<text x="48.50" y="656.40" text-anchor="middle" font-family='"Liberation Sans", sans-serif' font-size="8.8" font-weight="bold" fill="#111"  stroke="#111" stroke-width="0.22">0</text>
<line x1="102.00" y1="638.20" x2="102.00" y2="643.70" stroke="#2b2b2b" stroke-width="1.0" />
<text x="102.00" y="656.40" text-anchor="middle" font-family='"Liberation Sans", sans-serif' font-size="8.8" font-weight="bold" fill="#111"  stroke="#111" stroke-width="0.22">100</text>
<line x1="155.50" y1="638.20" x2="155.50" y2="643.70" stroke="#2b2b2b" stroke-width="1.0" />
<text x="155.50" y="656.40" text-anchor="middle" font-family='"Liberation Sans", sans-serif' font-size="8.8" font-weight="bold" fill="#111"  stroke="#111" stroke-width="0.22">200</text>
<line x1="209.00" y1="638.20" x2="209.00" y2="643.70" stroke="#2b2b2b" stroke-width="1.0" />
<text x="209.00" y="656.40" text-anchor="middle" font-family='"Liberation Sans", sans-serif' font-size="8.8" font-weight="bold" fill="#111"  stroke="#111" stroke-width="0.22">300</text>
<line x1="262.50" y1="638.20" x2="262.50" y2="643.70" stroke="#2b2b2b" stroke-width="1.0" />
<text x="262.50" y="656.40" text-anchor="middle" font-family='"Liberation Sans", sans-serif' font-size="8.8" font-weight="bold" fill="#111"  stroke="#111" stroke-width="0.22">400</text>
<line x1="316.00" y1="638.20" x2="316.00" y2="643.70" stroke="#2b2b2b" stroke-width="1.0" />
<text x="316.00" y="656.40" text-anchor="middle" font-family='"Liberation Sans", sans-serif' font-size="8.8" font-weight="bold" fill="#111"  stroke="#111" stroke-width="0.22">500</text>
<line x1="33.00" y1="628.50" x2="38.50" y2="628.50" stroke="#2b2b2b" stroke-width="1.0" />
<text transform="translate(26.30,628.50) rotate(-90)" text-anchor="middle" font-family='"Liberation Sans", sans-serif' font-size="8.8" font-weight="bold" fill="#111"  stroke="#111" stroke-width="0.22">0.0</text>
<line x1="33.00" y1="564.80" x2="38.50" y2="564.80" stroke="#2b2b2b" stroke-width="1.0" />
<text transform="translate(26.30,564.80) rotate(-90)" text-anchor="middle" font-family='"Liberation Sans", sans-serif' font-size="8.8" font-weight="bold" fill="#111"  stroke="#111" stroke-width="0.22">0.2</text>
<line x1="33.00" y1="501.10" x2="38.50" y2="501.10" stroke="#2b2b2b" stroke-width="1.0" />
<text transform="translate(26.30,501.10) rotate(-90)" text-anchor="middle" font-family='"Liberation Sans", sans-serif' font-size="8.8" font-weight="bold" fill="#111"  stroke="#111" stroke-width="0.22">0.4</text>
<line x1="33.00" y1="437.40" x2="38.50" y2="437.40" stroke="#2b2b2b" stroke-width="1.0" />
<text transform="translate(26.30,437.40) rotate(-90)" text-anchor="middle" font-family='"Liberation Sans", sans-serif' font-size="8.8" font-weight="bold" fill="#111"  stroke="#111" stroke-width="0.22">0.6</text>
<text x="182.70" y="676.30" text-anchor="middle" font-family='"Liberation Sans", sans-serif' font-size="8.8" font-weight="bold" fill="#111"  stroke="#111" stroke-width="0.22">trees</text>
<text transform="translate(7.00,507.50) rotate(-90)" text-anchor="middle" font-family='"Liberation Sans", sans-serif' font-size="8.8" font-weight="bold" fill="#111"  stroke="#111" stroke-width="0.22">Error</text>
<text x="179.20" y="363.20" text-anchor="middle" font-family='"Liberation Sans", sans-serif' font-size="8.6" font-weight="bold" fill="#111"  stroke="#111" stroke-width="0.22">Random forest</text>
<g stroke="#bdbdbd" stroke-width="0.9" stroke-dasharray="1 1.3">
<line x1="423.00" y1="388.30" x2="675.40" y2="388.30" stroke="#bdbdbd" stroke-width="0.9" />
<line x1="423.00" y1="396.63" x2="675.40" y2="396.63" stroke="#bdbdbd" stroke-width="0.9" />
<line x1="423.00" y1="404.96" x2="675.40" y2="404.96" stroke="#bdbdbd" stroke-width="0.9" />
<line x1="423.00" y1="413.29" x2="675.40" y2="413.29" stroke="#bdbdbd" stroke-width="0.9" />
<line x1="423.00" y1="421.62" x2="675.40" y2="421.62" stroke="#bdbdbd" stroke-width="0.9" />
<line x1="423.00" y1="429.95" x2="675.40" y2="429.95" stroke="#bdbdbd" stroke-width="0.9" />
<line x1="423.00" y1="438.28" x2="675.40" y2="438.28" stroke="#bdbdbd" stroke-width="0.9" />
<line x1="423.00" y1="446.61" x2="675.40" y2="446.61" stroke="#bdbdbd" stroke-width="0.9" />
<line x1="423.00" y1="454.94" x2="675.40" y2="454.94" stroke="#bdbdbd" stroke-width="0.9" />
<line x1="423.00" y1="463.27" x2="675.40" y2="463.27" stroke="#bdbdbd" stroke-width="0.9" />
<line x1="423.00" y1="471.60" x2="675.40" y2="471.60" stroke="#bdbdbd" stroke-width="0.9" />
<line x1="423.00" y1="479.93" x2="675.40" y2="479.93" stroke="#bdbdbd" stroke-width="0.9" />
<line x1="423.00" y1="488.26" x2="675.40" y2="488.26" stroke="#bdbdbd" stroke-width="0.9" />
<line x1="423.00" y1="496.59" x2="675.40" y2="496.59" stroke="#bdbdbd" stroke-width="0.9" />
<line x1="423.00" y1="504.92" x2="675.40" y2="504.92" stroke="#bdbdbd" stroke-width="0.9" />
<line x1="423.00" y1="513.25" x2="675.40" y2="513.25" stroke="#bdbdbd" stroke-width="0.9" />
<line x1="423.00" y1="521.58" x2="675.40" y2="521.58" stroke="#bdbdbd" stroke-width="0.9" />
<line x1="423.00" y1="529.91" x2="675.40" y2="529.91" stroke="#bdbdbd" stroke-width="0.9" />
<line x1="423.00" y1="538.24" x2="675.40" y2="538.24" stroke="#bdbdbd" stroke-width="0.9" />
<line x1="423.00" y1="546.57" x2="675.40" y2="546.57" stroke="#bdbdbd" stroke-width="0.9" />
<line x1="423.00" y1="554.90" x2="675.40" y2="554.90" stroke="#bdbdbd" stroke-width="0.9" />
<line x1="423.00" y1="563.23" x2="675.40" y2="563.23" stroke="#bdbdbd" stroke-width="0.9" />
<line x1="423.00" y1="571.56" x2="675.40" y2="571.56" stroke="#bdbdbd" stroke-width="0.9" />
<line x1="423.00" y1="579.89" x2="675.40" y2="579.89" stroke="#bdbdbd" stroke-width="0.9" />
<line x1="423.00" y1="588.22" x2="675.40" y2="588.22" stroke="#bdbdbd" stroke-width="0.9" />
<line x1="423.00" y1="596.55" x2="675.40" y2="596.55" stroke="#bdbdbd" stroke-width="0.9" />
<line x1="423.00" y1="604.88" x2="675.40" y2="604.88" stroke="#bdbdbd" stroke-width="0.9" />
<line x1="423.00" y1="613.21" x2="675.40" y2="613.21" stroke="#bdbdbd" stroke-width="0.9" />
<line x1="423.00" y1="621.54" x2="675.40" y2="621.54" stroke="#bdbdbd" stroke-width="0.9" />
<line x1="423.00" y1="629.87" x2="675.40" y2="629.87" stroke="#bdbdbd" stroke-width="0.9" />
</g>
<g fill="#fff" stroke="#1a1a1a" stroke-width="0.95">
<circle cx="666.70" cy="388.30" r="1.95"/>
<circle cx="631.50" cy="396.63" r="1.95"/>
<circle cx="610.50" cy="404.96" r="1.95"/>
<circle cx="610.30" cy="413.29" r="1.95"/>
<circle cx="598.00" cy="421.62" r="1.95"/>
<circle cx="594.00" cy="429.95" r="1.95"/>
<circle cx="563.30" cy="438.28" r="1.95"/>
<circle cx="547.40" cy="446.61" r="1.95"/>
<circle cx="546.40" cy="454.94" r="1.95"/>
<circle cx="536.20" cy="463.27" r="1.95"/>
<circle cx="533.10" cy="471.60" r="1.95"/>
<circle cx="531.50" cy="479.93" r="1.95"/>
<circle cx="515.40" cy="488.26" r="1.95"/>
<circle cx="514.80" cy="496.59" r="1.95"/>
<circle cx="514.40" cy="504.92" r="1.95"/>
<circle cx="513.00" cy="513.25" r="1.95"/>
<circle cx="509.40" cy="521.58" r="1.95"/>
<circle cx="508.50" cy="529.91" r="1.95"/>
<circle cx="508.20" cy="538.24" r="1.95"/>
<circle cx="506.30" cy="546.57" r="1.95"/>
<circle cx="497.90" cy="554.90" r="1.95"/>
<circle cx="495.30" cy="563.23" r="1.95"/>
<circle cx="495.00" cy="571.56" r="1.95"/>
<circle cx="490.30" cy="579.89" r="1.95"/>
<circle cx="484.70" cy="588.22" r="1.95"/>
<circle cx="483.80" cy="596.55" r="1.95"/>
<circle cx="482.40" cy="604.88" r="1.95"/>
<circle cx="481.60" cy="613.21" r="1.95"/>
<circle cx="475.60" cy="621.54" r="1.95"/>
<circle cx="475.40" cy="629.87" r="1.95"/>
</g>
<text x="373.00" y="391.40" text-anchor="start" font-family='"Liberation Sans", sans-serif' font-size="8.6" font-weight="bold" fill="#111"  stroke="#111" stroke-width="0.22">TIMP3</text>
<text x="373.00" y="399.73" text-anchor="start" font-family='"Liberation Sans", sans-serif' font-size="8.6" font-weight="bold" fill="#111"  stroke="#111" stroke-width="0.22">SPP1</text>
<text x="373.00" y="408.06" text-anchor="start" font-family='"Liberation Sans", sans-serif' font-size="8.6" font-weight="bold" fill="#111"  stroke="#111" stroke-width="0.22">PPBP</text>
<text x="373.00" y="416.39" text-anchor="start" font-family='"Liberation Sans", sans-serif' font-size="8.6" font-weight="bold" fill="#111"  stroke="#111" stroke-width="0.22">CTF1</text>
<text x="373.00" y="424.72" text-anchor="start" font-family='"Liberation Sans", sans-serif' font-size="8.6" font-weight="bold" fill="#111"  stroke="#111" stroke-width="0.22">SEMA3B</text>
<text x="373.00" y="433.05" text-anchor="start" font-family='"Liberation Sans", sans-serif' font-size="8.6" font-weight="bold" fill="#111"  stroke="#111" stroke-width="0.22">MMP7</text>
<text x="373.00" y="441.38" text-anchor="start" font-family='"Liberation Sans", sans-serif' font-size="8.6" font-weight="bold" fill="#111"  stroke="#111" stroke-width="0.22">CST6</text>
<text x="373.00" y="449.71" text-anchor="start" font-family='"Liberation Sans", sans-serif' font-size="8.6" font-weight="bold" fill="#111"  stroke="#111" stroke-width="0.22">KY</text>
<text x="373.00" y="458.04" text-anchor="start" font-family='"Liberation Sans", sans-serif' font-size="8.6" font-weight="bold" fill="#111"  stroke="#111" stroke-width="0.22">VCAN</text>
<text x="373.00" y="466.37" text-anchor="start" font-family='"Liberation Sans", sans-serif' font-size="8.6" font-weight="bold" fill="#111"  stroke="#111" stroke-width="0.22">PDGFA</text>
<text x="373.00" y="474.70" text-anchor="start" font-family='"Liberation Sans", sans-serif' font-size="8.6" font-weight="bold" fill="#111"  stroke="#111" stroke-width="0.22">ITIH5</text>
<text x="373.00" y="483.03" text-anchor="start" font-family='"Liberation Sans", sans-serif' font-size="8.6" font-weight="bold" fill="#111"  stroke="#111" stroke-width="0.22">MMP19</text>
<text x="373.00" y="491.36" text-anchor="start" font-family='"Liberation Sans", sans-serif' font-size="8.6" font-weight="bold" fill="#111"  stroke="#111" stroke-width="0.22">ADAMTSL4</text>
<text x="373.00" y="499.69" text-anchor="start" font-family='"Liberation Sans", sans-serif' font-size="8.6" font-weight="bold" fill="#111"  stroke="#111" stroke-width="0.22">SFTPB</text>
<text x="373.00" y="508.02" text-anchor="start" font-family='"Liberation Sans", sans-serif' font-size="8.6" font-weight="bold" fill="#111"  stroke="#111" stroke-width="0.22">TIMP1</text>
<text x="373.00" y="516.35" text-anchor="start" font-family='"Liberation Sans", sans-serif' font-size="8.6" font-weight="bold" fill="#111"  stroke="#111" stroke-width="0.22">CCL2</text>
<text x="373.00" y="524.68" text-anchor="start" font-family='"Liberation Sans", sans-serif' font-size="8.6" font-weight="bold" fill="#111"  stroke="#111" stroke-width="0.22">COL9A2</text>
<text x="373.00" y="533.01" text-anchor="start" font-family='"Liberation Sans", sans-serif' font-size="8.6" font-weight="bold" fill="#111"  stroke="#111" stroke-width="0.22">COL22A1</text>
<text x="373.00" y="541.34" text-anchor="start" font-family='"Liberation Sans", sans-serif' font-size="8.6" font-weight="bold" fill="#111"  stroke="#111" stroke-width="0.22">ANGPTL4</text>
<text x="373.00" y="549.67" text-anchor="start" font-family='"Liberation Sans", sans-serif' font-size="8.6" font-weight="bold" fill="#111"  stroke="#111" stroke-width="0.22">CTSF</text>
<text x="373.00" y="558.00" text-anchor="start" font-family='"Liberation Sans", sans-serif' font-size="8.6" font-weight="bold" fill="#111"  stroke="#111" stroke-width="0.22">CLEC11A</text>
<text x="373.00" y="566.33" text-anchor="start" font-family='"Liberation Sans", sans-serif' font-size="8.6" font-weight="bold" fill="#111"  stroke="#111" stroke-width="0.22">F13A1</text>
<text x="373.00" y="574.66" text-anchor="start" font-family='"Liberation Sans", sans-serif' font-size="8.6" font-weight="bold" fill="#111"  stroke="#111" stroke-width="0.22">KAZALD1</text>
<text x="373.00" y="582.99" text-anchor="start" font-family='"Liberation Sans", sans-serif' font-size="8.6" font-weight="bold" fill="#111"  stroke="#111" stroke-width="0.22">REG3A</text>
<text x="373.00" y="591.32" text-anchor="start" font-family='"Liberation Sans", sans-serif' font-size="8.6" font-weight="bold" fill="#111"  stroke="#111" stroke-width="0.22">SERPINI2</text>
<text x="373.00" y="599.65" text-anchor="start" font-family='"Liberation Sans", sans-serif' font-size="8.6" font-weight="bold" fill="#111"  stroke="#111" stroke-width="0.22">FCN1</text>
<text x="373.00" y="607.98" text-anchor="start" font-family='"Liberation Sans", sans-serif' font-size="8.6" font-weight="bold" fill="#111"  stroke="#111" stroke-width="0.22">CCL16</text>
<text x="373.00" y="616.31" text-anchor="start" font-family='"Liberation Sans", sans-serif' font-size="8.6" font-weight="bold" fill="#111"  stroke="#111" stroke-width="0.22">CELA2A</text>
<text x="373.00" y="624.64" text-anchor="start" font-family='"Liberation Sans", sans-serif' font-size="8.6" font-weight="bold" fill="#111"  stroke="#111" stroke-width="0.22">CRELD2</text>
<text x="373.00" y="632.97" text-anchor="start" font-family='"Liberation Sans", sans-serif' font-size="8.6" font-weight="bold" fill="#111"  stroke="#111" stroke-width="0.22">CRLF1</text>
<rect x="421.50" y="380.20" width="254.90" height="258.10" fill="none" stroke="#2b2b2b" stroke-width="1.1"/>
<line x1="431.00" y1="638.30" x2="431.00" y2="643.80" stroke="#2b2b2b" stroke-width="1.0" />
<text x="431.00" y="656.50" text-anchor="middle" font-family='"Liberation Sans", sans-serif' font-size="8.8" font-weight="bold" fill="#111"  stroke="#111" stroke-width="0.22">0.0</text>
<line x1="479.28" y1="638.30" x2="479.28" y2="643.80" stroke="#2b2b2b" stroke-width="1.0" />
<text x="479.28" y="656.50" text-anchor="middle" font-family='"Liberation Sans", sans-serif' font-size="8.8" font-weight="bold" fill="#111"  stroke="#111" stroke-width="0.22">0.2</text>
<line x1="527.56" y1="638.30" x2="527.56" y2="643.80" stroke="#2b2b2b" stroke-width="1.0" />
<text x="527.56" y="656.50" text-anchor="middle" font-family='"Liberation Sans", sans-serif' font-size="8.8" font-weight="bold" fill="#111"  stroke="#111" stroke-width="0.22">0.4</text>
<line x1="575.84" y1="638.30" x2="575.84" y2="643.80" stroke="#2b2b2b" stroke-width="1.0" />
<text x="575.84" y="656.50" text-anchor="middle" font-family='"Liberation Sans", sans-serif' font-size="8.8" font-weight="bold" fill="#111"  stroke="#111" stroke-width="0.22">0.6</text>
<line x1="624.12" y1="638.30" x2="624.12" y2="643.80" stroke="#2b2b2b" stroke-width="1.0" />
<text x="624.12" y="656.50" text-anchor="middle" font-family='"Liberation Sans", sans-serif' font-size="8.8" font-weight="bold" fill="#111"  stroke="#111" stroke-width="0.22">0.8</text>
<line x1="672.40" y1="638.30" x2="672.40" y2="643.80" stroke="#2b2b2b" stroke-width="1.0" />
<text x="672.40" y="656.50" text-anchor="middle" font-family='"Liberation Sans", sans-serif' font-size="8.8" font-weight="bold" fill="#111"  stroke="#111" stroke-width="0.22">1.0</text>
<text x="551.50" y="676.40" text-anchor="middle" font-family='"Liberation Sans", sans-serif' font-size="8.8" font-weight="bold" fill="#111"  stroke="#111" stroke-width="0.22">MeanDecreaseGini</text>
<line x1="38.60" y1="721.60" x2="326.90" y2="721.60" stroke="#555" stroke-width="0.9" stroke-dasharray="1 1.05"/>
<polyline points="49.00,705.50 78.90,739.50 108.60,792.00 138.00,908.60 167.40,858.80 197.30,926.80 226.60,944.20 256.50,910.60 286.00,910.60 315.50,892.00" fill="none" stroke="#1a1a1a" stroke-width="1.0"/>
<circle cx="226.6" cy="944.3" r="2.2" fill="none" stroke="#d8403a" stroke-width="1.0"/>
<text x="232.00" y="945.90" text-anchor="start" font-family='"Liberation Sans", sans-serif' font-size="8.8" font-weight="bold" fill="#d8403a"  stroke="#d8403a" stroke-width="0.22">7 − 0.0533</text>
<rect x="38.60" y="695.40" width="288.30" height="258.10" fill="none" stroke="#2b2b2b" stroke-width="1.1"/>
<line x1="78.60" y1="953.50" x2="78.60" y2="959.00" stroke="#2b2b2b" stroke-width="1.0" />
<text x="78.60" y="971.70" text-anchor="middle" font-family='"Liberation Sans", sans-serif' font-size="8.8" font-weight="bold" fill="#111"  stroke="#111" stroke-width="0.22">2</text>
<line x1="137.80" y1="953.50" x2="137.80" y2="959.00" stroke="#2b2b2b" stroke-width="1.0" />
<text x="137.80" y="971.70" text-anchor="middle" font-family='"Liberation Sans", sans-serif' font-size="8.8" font-weight="bold" fill="#111"  stroke="#111" stroke-width="0.22">4</text>
<line x1="197.00" y1="953.50" x2="197.00" y2="959.00" stroke="#2b2b2b" stroke-width="1.0" />
<text x="197.00" y="971.70" text-anchor="middle" font-family='"Liberation Sans", sans-serif' font-size="8.8" font-weight="bold" fill="#111"  stroke="#111" stroke-width="0.22">6</text>
<line x1="256.20" y1="953.50" x2="256.20" y2="959.00" stroke="#2b2b2b" stroke-width="1.0" />
<text x="256.20" y="971.70" text-anchor="middle" font-family='"Liberation Sans", sans-serif' font-size="8.8" font-weight="bold" fill="#111"  stroke="#111" stroke-width="0.22">8</text>
<line x1="315.40" y1="953.50" x2="315.40" y2="959.00" stroke="#2b2b2b" stroke-width="1.0" />
<text x="315.40" y="971.70" text-anchor="middle" font-family='"Liberation Sans", sans-serif' font-size="8.8" font-weight="bold" fill="#111"  stroke="#111" stroke-width="0.22">10</text>
<line x1="33.10" y1="929.00" x2="38.60" y2="929.00" stroke="#2b2b2b" stroke-width="1.0" />
<text transform="translate(26.40,929.00) rotate(-90)" text-anchor="middle" font-family='"Liberation Sans", sans-serif' font-size="8.8" font-weight="bold" fill="#111"  stroke="#111" stroke-width="0.22">0.06</text>
<line x1="33.10" y1="883.75" x2="38.60" y2="883.75" stroke="#2b2b2b" stroke-width="1.0" />
<text transform="translate(26.40,883.75) rotate(-90)" text-anchor="middle" font-family='"Liberation Sans", sans-serif' font-size="8.8" font-weight="bold" fill="#111"  stroke="#111" stroke-width="0.22">0.08</text>
<line x1="33.10" y1="838.50" x2="38.60" y2="838.50" stroke="#2b2b2b" stroke-width="1.0" />
<text transform="translate(26.40,838.50) rotate(-90)" text-anchor="middle" font-family='"Liberation Sans", sans-serif' font-size="8.8" font-weight="bold" fill="#111"  stroke="#111" stroke-width="0.22">0.10</text>
<line x1="33.10" y1="793.25" x2="38.60" y2="793.25" stroke="#2b2b2b" stroke-width="1.0" />
<text transform="translate(26.40,793.25) rotate(-90)" text-anchor="middle" font-family='"Liberation Sans", sans-serif' font-size="8.8" font-weight="bold" fill="#111"  stroke="#111" stroke-width="0.22">0.12</text>
<line x1="33.10" y1="748.00" x2="38.60" y2="748.00" stroke="#2b2b2b" stroke-width="1.0" />
<text transform="translate(26.40,748.00) rotate(-90)" text-anchor="middle" font-family='"Liberation Sans", sans-serif' font-size="8.8" font-weight="bold" fill="#111"  stroke="#111" stroke-width="0.22">0.14</text>
<line x1="33.10" y1="702.75" x2="38.60" y2="702.75" stroke="#2b2b2b" stroke-width="1.0" />
<text transform="translate(26.40,702.75) rotate(-90)" text-anchor="middle" font-family='"Liberation Sans", sans-serif' font-size="8.8" font-weight="bold" fill="#111"  stroke="#111" stroke-width="0.22">0.16</text>
<text x="186.50" y="991.60" text-anchor="middle" font-family='"Liberation Sans", sans-serif' font-size="8.8" font-weight="bold" fill="#111"  stroke="#111" stroke-width="0.22">Number of Features</text>
<text transform="translate(7.10,822.50) rotate(-90)" text-anchor="middle" font-family='"Liberation Sans", sans-serif' font-size="8.8" font-weight="bold" fill="#111"  stroke="#111" stroke-width="0.22">10x CV Error</text>
<defs><clipPath id="cy"><circle cx="481.9" cy="864.2" r="79.9"/></clipPath><clipPath id="cb"><circle cx="521.9" cy="795.3" r="79.9"/></clipPath><clipPath id="cr"><circle cx="561.9" cy="864.2" r="79.9"/></clipPath></defs>
<circle cx="481.9" cy="864.2" r="79.9" fill="#f4e5bf"/>
<circle cx="521.9" cy="795.3" r="79.9" fill="#cae0ee"/>
<circle cx="561.9" cy="864.2" r="79.9" fill="#f5c2bd"/>
<g clip-path="url(#cy)"><circle cx="521.9" cy="795.3" r="79.9" fill="#c5d1c5"/></g>
<g clip-path="url(#cb)"><circle cx="561.9" cy="864.2" r="79.9" fill="#d3afb4"/></g>
<g clip-path="url(#cy)"><circle cx="561.9" cy="864.2" r="79.9" fill="#efaf8e"/></g>
<g clip-path="url(#cy)"><g clip-path="url(#cb)"><circle cx="561.9" cy="864.2" r="79.9" fill="#cca292"/></g></g>
<g stroke-width="1.9" fill="none">
<circle cx="481.9" cy="864.2" r="79.9" stroke="#e2ab30"/>
<circle cx="561.9" cy="864.2" r="79.9" stroke="#dc3028"/>
<circle cx="521.9" cy="795.3" r="79.9" stroke="#4c9ed4"/>
</g>
<text x="519.60" y="738.20" text-anchor="middle" font-family='"Liberation Sans", sans-serif' font-size="8.8" font-weight="bold" fill="#111"  stroke="#111" stroke-width="0.22">LASSO</text>
<text x="522.20" y="760.60" text-anchor="middle" font-family='"Liberation Sans", sans-serif' font-size="8.8" font-weight="bold" fill="#111"  stroke="#111" stroke-width="0.22">2</text>
<text x="476.20" y="817.00" text-anchor="middle" font-family='"Liberation Sans", sans-serif' font-size="8.8" font-weight="bold" fill="#111"  stroke="#111" stroke-width="0.22">18</text>
<text x="521.90" y="844.30" text-anchor="middle" font-family='"Liberation Sans", sans-serif' font-size="8.8" font-weight="bold" fill="#111"  stroke="#111" stroke-width="0.22">7</text>
<text x="449.00" y="887.20" text-anchor="middle" font-family='"Liberation Sans", sans-serif' font-size="8.8" font-weight="bold" fill="#111"  stroke="#111" stroke-width="0.22">579</text>
<text x="521.90" y="898.30" text-anchor="middle" font-family='"Liberation Sans", sans-serif' font-size="8.8" font-weight="bold" fill="#111"  stroke="#111" stroke-width="0.22">1</text>
<text x="358.60" y="871.40" text-anchor="start" font-family='"Liberation Sans", sans-serif' font-size="8.6" font-weight="bold" fill="#111"  stroke="#111" stroke-width="0.22">Random Forest</text>
<text x="574.00" y="867.60" text-anchor="start" font-family='"Liberation Sans", sans-serif' font-size="8.8" font-weight="bold" fill="#111"  stroke="#111" stroke-width="0.22">Support Vector Machines</text>
</svg>
</body></html>
